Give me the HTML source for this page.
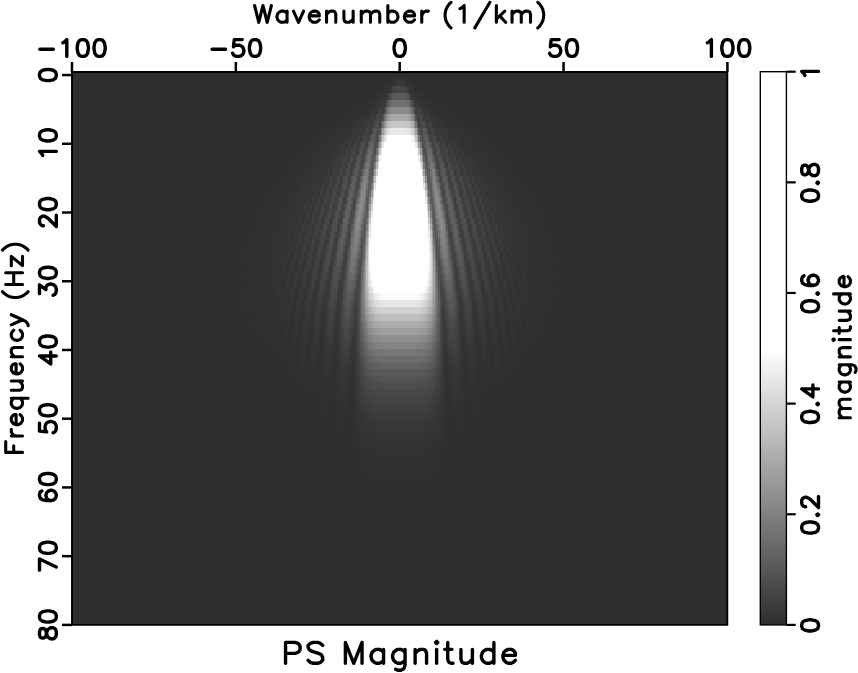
<!DOCTYPE html>
<html><head><meta charset="utf-8"><title>PS Magnitude</title>
<style>html,body{margin:0;padding:0;background:#fff;font-family:"Liberation Sans",sans-serif}svg{display:block}</style></head>
<body>
<svg width="858" height="673" viewBox="0 0 858 673">
<rect width="858" height="673" fill="#fff"/>
<g shape-rendering="crispEdges"><rect x="72.0" y="72.5" width="655.3" height="552.4" fill="rgb(45,45,45)"/>
<path fill="rgb(46,46,46)" d="M384 79h7v7h-7zM409 79h6v7h-6zM369 86h12v7h-12zM418 86h12v7h-12zM356 93h13v7h-13zM430 93h13v7h-13zM343 100h15v7h-15zM441 100h15v7h-15zM332 107h15v7h-15zM453 107h14v7h-14zM322 114h15v7h-15zM463 114h14v7h-14zM314 121h15v7h-15zM471 121h14v7h-14zM306 128h14v7h-14zM479 128h15v7h-15zM298 135h14v7h-14zM487 135h15v7h-15zM289 142h17v6h-17zM494 142h16v6h-16zM283 148h16v7h-16zM500 148h16v7h-16zM276 155h15v7h-15zM508 155h15v7h-15zM271 162h15v7h-15zM513 162h15v7h-15zM265 169h16v7h-16zM518 169h16v7h-16zM258 176h17v7h-17zM276 176h2v7h-2zM521 176h2v7h-2zM525 176h16v7h-16zM253 183h17v7h-17zM530 183h16v7h-16zM248 190h18v7h-18zM533 190h18v7h-18zM245 197h17v7h-17zM538 197h16v7h-16zM240 204h18v7h-18zM541 204h18v7h-18zM235 211h20v7h-20zM544 211h20v7h-20zM232 218h20v6h-20zM253 218h2v6h-2zM544 218h2v6h-2zM548 218h19v6h-19zM229 224h19v7h-19zM250 224h2v7h-2zM548 224h1v7h-1zM551 224h19v7h-19zM224 231h21v7h-21zM247 231h1v7h-1zM551 231h1v7h-1zM554 231h21v7h-21zM221 238h21v7h-21zM244 238h1v7h-1zM554 238h2v7h-2zM557 238h22v7h-22zM217 245h2v7h-2zM221 245h21v7h-21zM557 245h22v7h-22zM580 245h2v7h-2zM214 252h2v7h-2zM217 252h22v7h-22zM561 252h21v7h-21zM583 252h2v7h-2zM214 259h21v7h-21zM239 259h1v7h-1zM559 259h2v7h-2zM564 259h21v7h-21zM211 266h2v7h-2zM214 266h20v7h-20zM235 266h2v7h-2zM240 266h2v7h-2zM557 266h2v7h-2zM562 266h2v7h-2zM566 266h19v7h-19zM587 266h1v7h-1zM208 273h1v7h-1zM211 273h24v7h-24zM237 273h2v7h-2zM561 273h1v7h-1zM564 273h24v7h-24zM590 273h2v7h-2zM208 280h3v7h-3zM213 280h19v7h-19zM234 280h3v7h-3zM240 280h2v7h-2zM557 280h2v7h-2zM562 280h4v7h-4zM567 280h20v7h-20zM588 280h4v7h-4zM206 287h2v6h-2zM209 287h25v6h-25zM237 287h2v6h-2zM561 287h1v6h-1zM566 287h24v6h-24zM592 287h1v6h-1zM203 293h1v7h-1zM206 293h3v7h-3zM211 293h21v7h-21zM234 293h3v7h-3zM240 293h2v7h-2zM557 293h2v7h-2zM562 293h4v7h-4zM567 293h21v7h-21zM590 293h3v7h-3zM595 293h2v7h-2zM204 300h2v7h-2zM208 300h26v7h-26zM237 300h3v7h-3zM244 300h1v7h-1zM554 300h2v7h-2zM559 300h3v7h-3zM566 300h26v7h-26zM593 300h2v7h-2zM203 307h1v7h-1zM206 307h3v7h-3zM211 307h23v7h-23zM235 307h4v7h-4zM242 307h2v7h-2zM248 307h2v7h-2zM549 307h2v7h-2zM556 307h1v7h-1zM561 307h3v7h-3zM566 307h22v7h-22zM590 307h3v7h-3zM595 307h2v7h-2zM206 314h2v7h-2zM209 314h4v7h-4zM214 314h23v7h-23zM240 314h4v7h-4zM247 314h1v7h-1zM253 314h2v7h-2zM544 314h2v7h-2zM551 314h1v7h-1zM556 314h3v7h-3zM562 314h23v7h-23zM587 314h3v7h-3zM592 314h1v7h-1zM209 321h2v7h-2zM213 321h24v7h-24zM239 321h3v7h-3zM245 321h3v7h-3zM252 321h1v7h-1zM546 321h2v7h-2zM551 321h3v7h-3zM557 321h4v7h-4zM562 321h25v7h-25zM588 321h2v7h-2zM208 328h1v7h-1zM213 328h3v7h-3zM217 328h25v7h-25zM244 328h3v7h-3zM250 328h3v7h-3zM258 328h2v7h-2zM539 328h2v7h-2zM546 328h3v7h-3zM552 328h4v7h-4zM557 328h25v7h-25zM583 328h4v7h-4zM590 328h2v7h-2zM211 335h2v7h-2zM216 335h3v7h-3zM221 335h26v7h-26zM248 335h5v7h-5zM257 335h3v7h-3zM265 335h1v7h-1zM533 335h1v7h-1zM539 335h4v7h-4zM546 335h5v7h-5zM552 335h27v7h-27zM580 335h3v7h-3zM587 335h1v7h-1zM216 342h1v7h-1zM221 342h3v7h-3zM226 342h26v7h-26zM255 342h3v7h-3zM263 342h2v7h-2zM271 342h2v7h-2zM280 342h1v7h-1zM518 342h2v7h-2zM526 342h2v7h-2zM534 342h2v7h-2zM541 342h3v7h-3zM548 342h26v7h-26zM575 342h4v7h-4zM582 342h1v7h-1zM214 349h2v7h-2zM219 349h3v7h-3zM224 349h5v7h-5zM231 349h21v7h-21zM253 349h5v7h-5zM262 349h3v7h-3zM270 349h3v7h-3zM278 349h2v7h-2zM288 349h1v7h-1zM510 349h2v7h-2zM520 349h1v7h-1zM526 349h4v7h-4zM534 349h4v7h-4zM541 349h5v7h-5zM548 349h21v7h-21zM570 349h5v7h-5zM577 349h3v7h-3zM583 349h2v7h-2zM219 356h2v7h-2zM224 356h3v7h-3zM229 356h5v7h-5zM235 356h23v7h-23zM260 356h5v7h-5zM268 356h3v7h-3zM276 356h4v7h-4zM286 356h2v7h-2zM512 356h1v7h-1zM520 356h3v7h-3zM528 356h3v7h-3zM534 356h5v7h-5zM541 356h23v7h-23zM566 356h4v7h-4zM572 356h3v7h-3zM579 356h1v7h-1zM222 363h2v6h-2zM229 363h3v6h-3zM234 363h5v6h-5zM240 363h25v6h-25zM266 363h5v6h-5zM275 363h5v6h-5zM284 363h4v6h-4zM296 363h2v6h-2zM502 363h1v6h-1zM512 363h3v6h-3zM520 363h5v6h-5zM528 363h5v6h-5zM534 363h25v6h-25zM561 363h5v6h-5zM567 363h3v6h-3zM575 363h2v6h-2zM227 369h4v7h-4zM234 369h3v7h-3zM240 369h4v7h-4zM247 369h5v7h-5zM253 369h18v7h-18zM273 369h7v7h-7zM283 369h5v7h-5zM294 369h4v7h-4zM306 369h1v7h-1zM492 369h2v7h-2zM502 369h3v7h-3zM512 369h4v7h-4zM520 369h6v7h-6zM528 369h18v7h-18zM548 369h4v7h-4zM556 369h3v7h-3zM562 369h4v7h-4zM569 369h3v7h-3zM234 376h1v7h-1zM239 376h3v7h-3zM245 376h5v7h-5zM252 376h6v7h-6zM260 376h20v7h-20zM281 376h7v7h-7zM293 376h5v7h-5zM304 376h3v7h-3zM317 376h2v7h-2zM481 376h1v7h-1zM492 376h3v7h-3zM502 376h5v7h-5zM512 376h6v7h-6zM520 376h19v7h-19zM541 376h7v7h-7zM549 376h5v7h-5zM557 376h4v7h-4zM564 376h2v7h-2zM239 383h1v7h-1zM245 383h3v7h-3zM252 383h5v7h-5zM260 383h5v7h-5zM266 383h22v7h-22zM291 383h7v7h-7zM302 383h5v7h-5zM317 383h2v7h-2zM481 383h1v7h-1zM492 383h5v7h-5zM502 383h6v7h-6zM512 383h21v7h-21zM534 383h5v7h-5zM543 383h5v7h-5zM551 383h3v7h-3zM559 383h2v7h-2zM245 390h2v7h-2zM252 390h3v7h-3zM258 390h5v7h-5zM266 390h7v7h-7zM275 390h23v7h-23zM301 390h6v7h-6zM315 390h4v7h-4zM332 390h1v7h-1zM466 390h1v7h-1zM481 390h3v7h-3zM492 390h7v7h-7zM502 390h23v7h-23zM526 390h7v7h-7zM536 390h5v7h-5zM544 390h4v7h-4zM552 390h2v7h-2zM252 397h1v7h-1zM258 397h4v7h-4zM266 397h5v7h-5zM275 397h6v7h-6zM283 397h15v7h-15zM299 397h8v7h-8zM314 397h5v7h-5zM330 397h3v7h-3zM466 397h3v7h-3zM481 397h4v7h-4zM492 397h8v7h-8zM502 397h14v7h-14zM518 397h7v7h-7zM528 397h5v7h-5zM538 397h3v7h-3zM546 397h2v7h-2zM258 404h2v7h-2zM266 404h4v7h-4zM275 404h5v7h-5zM283 404h8v7h-8zM293 404h9v7h-9zM304 404h5v7h-5zM312 404h8v7h-8zM329 404h4v7h-4zM466 404h5v7h-5zM479 404h8v7h-8zM490 404h5v7h-5zM497 404h10v7h-10zM508 404h8v7h-8zM520 404h5v7h-5zM530 404h3v7h-3zM539 404h2v7h-2zM266 411h2v7h-2zM275 411h3v7h-3zM283 411h6v7h-6zM293 411h8v7h-8zM304 411h16v7h-16zM327 411h6v7h-6zM350 411h1v7h-1zM448 411h1v7h-1zM466 411h6v7h-6zM479 411h16v7h-16zM499 411h8v7h-8zM510 411h6v7h-6zM521 411h4v7h-4zM531 411h2v7h-2zM275 418h1v7h-1zM283 418h5v7h-5zM293 418h8v7h-8zM304 418h10v7h-10zM315 418h7v7h-7zM325 418h10v7h-10zM348 418h3v7h-3zM448 418h3v7h-3zM464 418h10v7h-10zM477 418h7v7h-7zM485 418h10v7h-10zM499 418h8v7h-8zM512 418h4v7h-4zM523 418h2v7h-2zM284 425h2v7h-2zM293 425h6v7h-6zM304 425h8v7h-8zM317 425h12v7h-12zM330 425h5v7h-5zM347 425h6v7h-6zM446 425h7v7h-7zM464 425h5v7h-5zM471 425h11v7h-11zM487 425h8v7h-8zM500 425h7v7h-7zM513 425h2v7h-2zM294 432h2v6h-2zM304 432h7v6h-7zM317 432h12v6h-12zM332 432h5v6h-5zM345 432h8v6h-8zM446 432h8v6h-8zM463 432h4v6h-4zM471 432h11v6h-11zM489 432h6v6h-6zM503 432h2v6h-2zM306 438h3v7h-3zM317 438h10v7h-10zM332 438h21v7h-21zM446 438h21v7h-21zM472 438h10v7h-10zM490 438h4v7h-4zM317 445h8v7h-8zM332 445h16v7h-16zM350 445h5v7h-5zM445 445h4v7h-4zM451 445h16v7h-16zM474 445h8v7h-8zM320 452h2v7h-2zM333 452h14v7h-14zM351 452h4v7h-4zM445 452h3v7h-3zM453 452h13v7h-13zM477 452h2v7h-2zM333 459h12v7h-12zM351 459h5v7h-5zM443 459h5v7h-5zM454 459h12v7h-12zM337 466h5v7h-5zM351 466h9v7h-9zM440 466h8v7h-8zM458 466h5v7h-5zM353 473h12v7h-12zM435 473h11v7h-11zM353 480h93v7h-93zM355 487h90v7h-90zM358 494h83v7h-83zM363 501h73v7h-73z"/>
<path fill="rgb(47,47,47)" d="M391 79h1v7h-1zM407 79h2v7h-2zM381 86h3v7h-3zM415 86h3v7h-3zM369 93h5v7h-5zM425 93h5v7h-5zM358 100h7v7h-7zM435 100h6v7h-6zM347 107h8v7h-8zM445 107h8v7h-8zM337 114h10v7h-10zM453 114h10v7h-10zM329 121h9v7h-9zM461 121h10v7h-10zM320 128h9v7h-9zM471 128h8v7h-8zM312 135h8v7h-8zM479 135h8v7h-8zM306 142h9v6h-9zM484 142h10v6h-10zM299 148h8v7h-8zM492 148h8v7h-8zM291 155h10v7h-10zM499 155h9v7h-9zM286 162h10v7h-10zM503 162h10v7h-10zM281 169h8v7h-8zM291 169h2v7h-2zM507 169h1v7h-1zM510 169h8v7h-8zM275 176h1v7h-1zM278 176h6v7h-6zM515 176h6v7h-6zM523 176h2v7h-2zM270 183h11v7h-11zM518 183h12v7h-12zM266 190h12v7h-12zM521 190h12v7h-12zM262 197h8v7h-8zM271 197h2v7h-2zM526 197h2v7h-2zM530 197h8v7h-8zM258 204h8v7h-8zM268 204h2v7h-2zM530 204h1v7h-1zM533 204h8v7h-8zM255 211h8v7h-8zM265 211h1v7h-1zM533 211h1v7h-1zM536 211h8v7h-8zM252 218h1v6h-1zM255 218h5v6h-5zM262 218h1v6h-1zM536 218h2v6h-2zM539 218h5v6h-5zM546 218h2v6h-2zM248 224h2v7h-2zM252 224h5v7h-5zM258 224h2v7h-2zM263 224h2v7h-2zM534 224h2v7h-2zM539 224h2v7h-2zM543 224h5v7h-5zM549 224h2v7h-2zM245 231h2v7h-2zM248 231h5v7h-5zM255 231h2v7h-2zM260 231h2v7h-2zM538 231h1v7h-1zM543 231h1v7h-1zM546 231h5v7h-5zM552 231h2v7h-2zM242 238h2v7h-2zM245 238h10v7h-10zM257 238h1v7h-1zM541 238h2v7h-2zM544 238h10v7h-10zM556 238h1v7h-1zM242 245h10v7h-10zM253 245h2v7h-2zM258 245h2v7h-2zM539 245h2v7h-2zM544 245h2v7h-2zM548 245h9v7h-9zM239 252h9v7h-9zM250 252h3v7h-3zM546 252h3v7h-3zM551 252h10v7h-10zM235 259h4v7h-4zM240 259h10v7h-10zM253 259h2v7h-2zM258 259h2v7h-2zM539 259h2v7h-2zM544 259h2v7h-2zM549 259h10v7h-10zM561 259h3v7h-3zM234 266h1v7h-1zM237 266h3v7h-3zM242 266h6v7h-6zM250 266h2v7h-2zM548 266h1v7h-1zM551 266h6v7h-6zM559 266h3v7h-3zM564 266h2v7h-2zM235 273h2v7h-2zM239 273h6v7h-6zM247 273h3v7h-3zM253 273h2v7h-2zM544 273h2v7h-2zM549 273h3v7h-3zM554 273h7v7h-7zM562 273h2v7h-2zM232 280h2v7h-2zM237 280h3v7h-3zM242 280h6v7h-6zM250 280h3v7h-3zM257 280h1v7h-1zM541 280h2v7h-2zM546 280h3v7h-3zM551 280h6v7h-6zM559 280h3v7h-3zM566 280h1v7h-1zM234 287h3v6h-3zM239 287h6v6h-6zM247 287h3v6h-3zM253 287h4v6h-4zM260 287h2v6h-2zM538 287h1v6h-1zM543 287h3v6h-3zM549 287h3v6h-3zM554 287h7v6h-7zM562 287h4v6h-4zM232 293h2v7h-2zM237 293h3v7h-3zM242 293h6v7h-6zM252 293h1v7h-1zM258 293h2v7h-2zM265 293h1v7h-1zM533 293h1v7h-1zM539 293h2v7h-2zM546 293h2v7h-2zM551 293h6v7h-6zM559 293h3v7h-3zM566 293h1v7h-1zM234 300h3v7h-3zM240 300h4v7h-4zM245 300h2v7h-2zM248 300h4v7h-4zM255 300h3v7h-3zM263 300h2v7h-2zM270 300h1v7h-1zM528 300h2v7h-2zM534 300h2v7h-2zM541 300h3v7h-3zM548 300h3v7h-3zM552 300h2v7h-2zM556 300h3v7h-3zM562 300h4v7h-4zM234 307h1v7h-1zM239 307h3v7h-3zM244 307h4v7h-4zM250 307h2v7h-2zM253 307h4v7h-4zM262 307h1v7h-1zM268 307h2v7h-2zM530 307h1v7h-1zM536 307h2v7h-2zM543 307h3v7h-3zM548 307h1v7h-1zM551 307h5v7h-5zM557 307h4v7h-4zM564 307h2v7h-2zM237 314h3v7h-3zM244 314h3v7h-3zM248 314h5v7h-5zM255 314h2v7h-2zM260 314h3v7h-3zM266 314h4v7h-4zM275 314h1v7h-1zM523 314h2v7h-2zM530 314h3v7h-3zM536 314h3v7h-3zM543 314h1v7h-1zM546 314h5v7h-5zM552 314h4v7h-4zM559 314h3v7h-3zM237 321h2v7h-2zM242 321h3v7h-3zM248 321h4v7h-4zM253 321h4v7h-4zM258 321h4v7h-4zM265 321h3v7h-3zM273 321h3v7h-3zM523 321h3v7h-3zM531 321h3v7h-3zM538 321h3v7h-3zM543 321h3v7h-3zM548 321h3v7h-3zM554 321h3v7h-3zM561 321h1v7h-1zM242 328h2v7h-2zM247 328h3v7h-3zM253 328h5v7h-5zM260 328h2v7h-2zM263 328h5v7h-5zM271 328h4v7h-4zM281 328h2v7h-2zM289 328h2v7h-2zM508 328h2v7h-2zM516 328h2v7h-2zM525 328h3v7h-3zM531 328h5v7h-5zM538 328h1v7h-1zM541 328h5v7h-5zM549 328h3v7h-3zM556 328h1v7h-1zM247 335h1v7h-1zM253 335h4v7h-4zM260 335h5v7h-5zM266 335h2v7h-2zM271 335h4v7h-4zM280 335h3v7h-3zM289 335h2v7h-2zM508 335h2v7h-2zM516 335h4v7h-4zM525 335h3v7h-3zM531 335h2v7h-2zM534 335h5v7h-5zM543 335h3v7h-3zM551 335h1v7h-1zM252 342h3v7h-3zM258 342h5v7h-5zM265 342h6v7h-6zM273 342h2v7h-2zM278 342h2v7h-2zM281 342h2v7h-2zM288 342h3v7h-3zM298 342h1v7h-1zM500 342h2v7h-2zM508 342h4v7h-4zM516 342h2v7h-2zM520 342h1v7h-1zM525 342h1v7h-1zM528 342h6v7h-6zM536 342h5v7h-5zM544 342h4v7h-4zM252 349h1v7h-1zM258 349h4v7h-4zM265 349h5v7h-5zM273 349h2v7h-2zM276 349h2v7h-2zM280 349h1v7h-1zM286 349h2v7h-2zM296 349h3v7h-3zM307 349h2v7h-2zM490 349h2v7h-2zM500 349h3v7h-3zM512 349h1v7h-1zM518 349h2v7h-2zM521 349h2v7h-2zM525 349h1v7h-1zM530 349h4v7h-4zM538 349h3v7h-3zM546 349h2v7h-2zM258 356h2v7h-2zM265 356h3v7h-3zM271 356h5v7h-5zM280 356h1v7h-1zM284 356h2v7h-2zM288 356h1v7h-1zM294 356h5v7h-5zM306 356h3v7h-3zM319 356h1v7h-1zM479 356h2v7h-2zM490 356h4v7h-4zM500 356h5v7h-5zM510 356h2v7h-2zM513 356h2v7h-2zM518 356h2v7h-2zM523 356h5v7h-5zM531 356h3v7h-3zM539 356h2v7h-2zM265 363h1v6h-1zM271 363h4v6h-4zM280 363h4v6h-4zM288 363h1v6h-1zM293 363h3v6h-3zM298 363h1v6h-1zM306 363h3v6h-3zM319 363h1v6h-1zM479 363h2v6h-2zM490 363h4v6h-4zM500 363h2v6h-2zM503 363h4v6h-4zM510 363h2v6h-2zM515 363h5v6h-5zM525 363h3v6h-3zM533 363h1v6h-1zM271 369h2v7h-2zM280 369h3v7h-3zM288 369h6v7h-6zM298 369h1v7h-1zM304 369h2v7h-2zM307 369h2v7h-2zM317 369h3v7h-3zM333 369h2v7h-2zM464 369h2v7h-2zM479 369h3v7h-3zM490 369h2v7h-2zM494 369h1v7h-1zM500 369h2v7h-2zM505 369h7v7h-7zM516 369h4v7h-4zM526 369h2v7h-2zM280 376h1v7h-1zM288 376h5v7h-5zM298 376h1v7h-1zM302 376h2v7h-2zM307 376h2v7h-2zM315 376h2v7h-2zM319 376h1v7h-1zM332 376h3v7h-3zM464 376h3v7h-3zM479 376h2v7h-2zM482 376h2v7h-2zM490 376h2v7h-2zM495 376h2v7h-2zM500 376h2v7h-2zM507 376h5v7h-5zM518 376h2v7h-2zM288 383h3v7h-3zM298 383h4v7h-4zM307 383h2v7h-2zM314 383h3v7h-3zM319 383h1v7h-1zM330 383h5v7h-5zM464 383h5v7h-5zM479 383h2v7h-2zM482 383h3v7h-3zM490 383h2v7h-2zM497 383h5v7h-5zM508 383h4v7h-4zM298 390h3v7h-3zM307 390h8v7h-8zM319 390h3v7h-3zM329 390h3v7h-3zM333 390h2v7h-2zM464 390h2v7h-2zM467 390h4v7h-4zM477 390h4v7h-4zM484 390h8v7h-8zM499 390h3v7h-3zM298 397h1v7h-1zM307 397h7v7h-7zM319 397h3v7h-3zM327 397h3v7h-3zM333 397h2v7h-2zM350 397h3v7h-3zM446 397h3v7h-3zM464 397h2v7h-2zM469 397h3v7h-3zM477 397h4v7h-4zM485 397h7v7h-7zM500 397h2v7h-2zM309 404h3v7h-3zM320 404h9v7h-9zM333 404h4v7h-4zM348 404h5v7h-5zM446 404h5v7h-5zM463 404h3v7h-3zM471 404h8v7h-8zM487 404h3v7h-3zM320 411h7v7h-7zM333 411h4v7h-4zM347 411h3v7h-3zM351 411h2v7h-2zM446 411h2v7h-2zM449 411h4v7h-4zM463 411h3v7h-3zM472 411h7v7h-7zM322 418h3v7h-3zM335 418h3v7h-3zM343 418h5v7h-5zM351 418h2v7h-2zM446 418h2v7h-2zM451 418h5v7h-5zM461 418h3v7h-3zM474 418h3v7h-3zM335 425h12v7h-12zM353 425h2v7h-2zM445 425h1v7h-1zM453 425h11v7h-11zM337 432h8v6h-8zM353 432h2v6h-2zM445 432h1v6h-1zM454 432h9v6h-9zM353 438h3v7h-3zM443 438h3v7h-3zM355 445h3v7h-3zM441 445h4v7h-4zM355 452h5v7h-5zM440 452h5v7h-5zM356 459h9v7h-9zM435 459h8v7h-8zM360 466h80v7h-80zM365 473h70v7h-70z"/>
<path fill="rgb(48,48,48)" d="M392 79h2v7h-2zM405 79h2v7h-2zM384 86h2v7h-2zM414 86h1v7h-1zM374 93h5v7h-5zM420 93h5v7h-5zM365 100h3v7h-3zM369 100h2v7h-2zM428 100h2v7h-2zM432 100h3v7h-3zM355 107h5v7h-5zM440 107h5v7h-5zM347 114h6v7h-6zM446 114h7v7h-7zM338 121h4v7h-4zM343 121h2v7h-2zM454 121h2v7h-2zM458 121h3v7h-3zM329 128h6v7h-6zM464 128h7v7h-7zM320 135h7v7h-7zM329 135h1v7h-1zM469 135h2v7h-2zM472 135h7v7h-7zM315 142h7v6h-7zM477 142h7v6h-7zM307 148h8v7h-8zM484 148h8v7h-8zM301 155h6v7h-6zM309 155h2v7h-2zM489 155h1v7h-1zM492 155h7v7h-7zM296 162h8v7h-8zM495 162h8v7h-8zM289 169h2v7h-2zM293 169h3v7h-3zM298 169h1v7h-1zM500 169h2v7h-2zM503 169h4v7h-4zM508 169h2v7h-2zM284 176h9v7h-9zM294 176h2v7h-2zM503 176h2v7h-2zM507 176h8v7h-8zM281 183h8v7h-8zM291 183h2v7h-2zM507 183h1v7h-1zM510 183h8v7h-8zM278 190h3v7h-3zM283 190h1v7h-1zM515 190h1v7h-1zM518 190h3v7h-3zM270 197h1v7h-1zM273 197h5v7h-5zM280 197h1v7h-1zM518 197h2v7h-2zM521 197h5v7h-5zM528 197h2v7h-2zM266 204h2v7h-2zM270 204h5v7h-5zM276 204h2v7h-2zM521 204h2v7h-2zM525 204h5v7h-5zM531 204h2v7h-2zM263 211h2v7h-2zM266 211h5v7h-5zM273 211h2v7h-2zM525 211h1v7h-1zM528 211h5v7h-5zM534 211h2v7h-2zM260 218h2v6h-2zM263 218h5v6h-5zM270 218h3v6h-3zM526 218h4v6h-4zM531 218h5v6h-5zM538 218h1v6h-1zM257 224h1v7h-1zM260 224h3v7h-3zM266 224h4v7h-4zM530 224h3v7h-3zM536 224h3v7h-3zM541 224h2v7h-2zM253 231h2v7h-2zM257 231h3v7h-3zM262 231h4v7h-4zM270 231h1v7h-1zM528 231h2v7h-2zM533 231h5v7h-5zM539 231h4v7h-4zM544 231h2v7h-2zM255 238h2v7h-2zM258 238h5v7h-5zM266 238h2v7h-2zM531 238h2v7h-2zM536 238h5v7h-5zM543 238h1v7h-1zM252 245h1v7h-1zM255 245h3v7h-3zM260 245h2v7h-2zM263 245h3v7h-3zM533 245h3v7h-3zM538 245h1v7h-1zM541 245h3v7h-3zM546 245h2v7h-2zM248 252h2v7h-2zM253 252h5v7h-5zM260 252h3v7h-3zM266 252h2v7h-2zM531 252h2v7h-2zM536 252h3v7h-3zM541 252h5v7h-5zM549 252h2v7h-2zM250 259h3v7h-3zM255 259h3v7h-3zM260 259h2v7h-2zM263 259h3v7h-3zM270 259h1v7h-1zM528 259h2v7h-2zM533 259h3v7h-3zM538 259h1v7h-1zM541 259h3v7h-3zM546 259h3v7h-3zM248 266h2v7h-2zM252 266h6v7h-6zM262 266h1v7h-1zM266 266h4v7h-4zM530 266h3v7h-3zM536 266h2v7h-2zM541 266h7v7h-7zM549 266h2v7h-2zM245 273h2v7h-2zM250 273h3v7h-3zM255 273h2v7h-2zM258 273h4v7h-4zM265 273h1v7h-1zM271 273h2v7h-2zM526 273h2v7h-2zM533 273h1v7h-1zM538 273h3v7h-3zM543 273h1v7h-1zM546 273h3v7h-3zM552 273h2v7h-2zM248 280h2v7h-2zM253 280h4v7h-4zM258 280h2v7h-2zM262 280h3v7h-3zM268 280h3v7h-3zM528 280h3v7h-3zM534 280h4v7h-4zM539 280h2v7h-2zM543 280h3v7h-3zM549 280h2v7h-2zM245 287h2v6h-2zM250 287h3v6h-3zM262 287h1v6h-1zM266 287h2v6h-2zM273 287h2v6h-2zM525 287h1v6h-1zM531 287h2v6h-2zM536 287h2v6h-2zM546 287h3v6h-3zM552 287h2v6h-2zM248 293h4v7h-4zM253 293h2v7h-2zM257 293h1v7h-1zM260 293h2v7h-2zM263 293h2v7h-2zM271 293h2v7h-2zM280 293h1v7h-1zM518 293h2v7h-2zM526 293h2v7h-2zM534 293h2v7h-2zM538 293h1v7h-1zM541 293h2v7h-2zM544 293h2v7h-2zM548 293h3v7h-3zM247 300h1v7h-1zM252 300h3v7h-3zM258 300h2v7h-2zM262 300h1v7h-1zM268 300h2v7h-2zM276 300h4v7h-4zM284 300h2v7h-2zM513 300h2v7h-2zM520 300h3v7h-3zM530 300h1v7h-1zM536 300h2v7h-2zM539 300h2v7h-2zM544 300h4v7h-4zM551 300h1v7h-1zM252 307h1v7h-1zM257 307h5v7h-5zM263 307h2v7h-2zM270 307h1v7h-1zM275 307h3v7h-3zM284 307h2v7h-2zM293 307h1v7h-1zM505 307h2v7h-2zM513 307h2v7h-2zM521 307h4v7h-4zM528 307h2v7h-2zM534 307h2v7h-2zM538 307h5v7h-5zM546 307h2v7h-2zM257 314h3v7h-3zM263 314h3v7h-3zM276 314h2v7h-2zM283 314h1v7h-1zM291 314h2v7h-2zM507 314h1v7h-1zM515 314h1v7h-1zM521 314h2v7h-2zM533 314h3v7h-3zM539 314h4v7h-4zM257 321h1v7h-1zM262 321h3v7h-3zM268 321h2v7h-2zM281 321h3v7h-3zM289 321h4v7h-4zM301 321h1v7h-1zM497 321h2v7h-2zM507 321h3v7h-3zM515 321h3v7h-3zM530 321h1v7h-1zM534 321h4v7h-4zM541 321h2v7h-2zM262 328h1v7h-1zM268 328h3v7h-3zM275 328h1v7h-1zM280 328h1v7h-1zM283 328h1v7h-1zM291 328h2v7h-2zM299 328h2v7h-2zM499 328h1v7h-1zM507 328h1v7h-1zM515 328h1v7h-1zM518 328h2v7h-2zM523 328h2v7h-2zM528 328h3v7h-3zM536 328h2v7h-2zM268 335h3v7h-3zM275 335h1v7h-1zM278 335h2v7h-2zM283 335h1v7h-1zM288 335h1v7h-1zM291 335h2v7h-2zM298 335h3v7h-3zM309 335h2v7h-2zM489 335h1v7h-1zM499 335h3v7h-3zM507 335h1v7h-1zM510 335h2v7h-2zM515 335h1v7h-1zM520 335h1v7h-1zM523 335h2v7h-2zM528 335h3v7h-3zM275 342h3v7h-3zM286 342h2v7h-2zM296 342h2v7h-2zM299 342h2v7h-2zM307 342h4v7h-4zM320 342h2v7h-2zM477 342h2v7h-2zM489 342h3v7h-3zM499 342h1v7h-1zM502 342h1v7h-1zM512 342h1v7h-1zM521 342h4v7h-4zM275 349h1v7h-1zM281 349h5v7h-5zM289 349h2v7h-2zM294 349h2v7h-2zM299 349h2v7h-2zM306 349h1v7h-1zM309 349h2v7h-2zM319 349h3v7h-3zM477 349h4v7h-4zM489 349h1v7h-1zM492 349h2v7h-2zM499 349h1v7h-1zM503 349h2v7h-2zM508 349h2v7h-2zM513 349h5v7h-5zM523 349h2v7h-2zM281 356h3v7h-3zM289 356h5v7h-5zM299 356h2v7h-2zM309 356h2v7h-2zM320 356h2v7h-2zM333 356h2v7h-2zM464 356h2v7h-2zM477 356h2v7h-2zM489 356h1v7h-1zM499 356h1v7h-1zM505 356h5v7h-5zM515 356h3v7h-3zM289 363h4v6h-4zM299 363h2v6h-2zM304 363h2v6h-2zM309 363h2v6h-2zM317 363h2v6h-2zM320 363h2v6h-2zM333 363h2v6h-2zM464 363h2v6h-2zM477 363h2v6h-2zM481 363h1v6h-1zM489 363h1v6h-1zM494 363h1v6h-1zM499 363h1v6h-1zM507 363h3v6h-3zM299 369h5v7h-5zM309 369h2v7h-2zM315 369h2v7h-2zM320 369h2v7h-2zM332 369h1v7h-1zM466 369h1v7h-1zM477 369h2v7h-2zM482 369h2v7h-2zM489 369h1v7h-1zM495 369h5v7h-5zM299 376h3v7h-3zM309 376h6v7h-6zM320 376h2v7h-2zM330 376h2v7h-2zM467 376h2v7h-2zM477 376h2v7h-2zM484 376h6v7h-6zM497 376h3v7h-3zM309 383h5v7h-5zM320 383h2v7h-2zM329 383h1v7h-1zM335 383h2v7h-2zM350 383h3v7h-3zM446 383h3v7h-3zM463 383h1v7h-1zM469 383h2v7h-2zM477 383h2v7h-2zM485 383h5v7h-5zM322 390h7v7h-7zM335 390h2v7h-2zM350 390h3v7h-3zM446 390h3v7h-3zM463 390h1v7h-1zM471 390h6v7h-6zM322 397h5v7h-5zM335 397h2v7h-2zM348 397h2v7h-2zM449 397h2v7h-2zM463 397h1v7h-1zM472 397h5v7h-5zM337 404h1v7h-1zM347 404h1v7h-1zM353 404h2v7h-2zM445 404h1v7h-1zM451 404h2v7h-2zM461 404h2v7h-2zM337 411h10v7h-10zM353 411h2v7h-2zM445 411h1v7h-1zM453 411h10v7h-10zM338 418h5v7h-5zM353 418h2v7h-2zM445 418h1v7h-1zM456 418h5v7h-5zM355 425h1v7h-1zM443 425h2v7h-2zM355 432h3v6h-3zM441 432h4v6h-4zM356 438h4v7h-4zM440 438h3v7h-3zM358 445h3v7h-3zM438 445h3v7h-3zM360 452h9v7h-9zM430 452h10v7h-10zM365 459h70v7h-70z"/>
<path fill="rgb(49,49,49)" d="M386 86h1v7h-1zM412 86h2v7h-2zM381 93h1v7h-1zM417 93h1v7h-1zM368 100h1v7h-1zM430 100h2v7h-2zM360 107h5v7h-5zM435 107h5v7h-5zM353 114h3v7h-3zM443 114h3v7h-3zM342 121h1v7h-1zM345 121h3v7h-3zM451 121h3v7h-3zM456 121h2v7h-2zM335 128h7v7h-7zM458 128h6v7h-6zM327 135h2v7h-2zM330 135h3v7h-3zM466 135h3v7h-3zM471 135h1v7h-1zM322 142h5v6h-5zM472 142h5v6h-5zM315 148h4v7h-4zM320 148h2v7h-2zM477 148h2v7h-2zM481 148h3v7h-3zM307 155h2v7h-2zM311 155h4v7h-4zM484 155h5v7h-5zM490 155h2v7h-2zM304 162h3v7h-3zM309 162h2v7h-2zM489 162h1v7h-1zM492 162h3v7h-3zM296 169h2v7h-2zM299 169h5v7h-5zM495 169h5v7h-5zM502 169h1v7h-1zM293 176h1v7h-1zM296 176h2v7h-2zM299 176h2v7h-2zM499 176h1v7h-1zM502 176h1v7h-1zM505 176h2v7h-2zM289 183h2v7h-2zM296 183h2v7h-2zM502 183h1v7h-1zM508 183h2v7h-2zM281 190h2v7h-2zM284 190h5v7h-5zM293 190h1v7h-1zM505 190h2v7h-2zM510 190h5v7h-5zM516 190h2v7h-2zM278 197h2v7h-2zM281 197h5v7h-5zM289 197h2v7h-2zM508 197h2v7h-2zM513 197h5v7h-5zM520 197h1v7h-1zM275 204h1v7h-1zM278 204h2v7h-2zM281 204h2v7h-2zM286 204h2v7h-2zM512 204h1v7h-1zM516 204h2v7h-2zM520 204h1v7h-1zM523 204h2v7h-2zM271 211h2v7h-2zM275 211h1v7h-1zM278 211h2v7h-2zM283 211h1v7h-1zM515 211h1v7h-1zM520 211h1v7h-1zM523 211h2v7h-2zM526 211h2v7h-2zM268 218h2v6h-2zM275 218h3v6h-3zM280 218h1v6h-1zM518 218h2v6h-2zM521 218h4v6h-4zM530 218h1v6h-1zM265 224h1v7h-1zM270 224h5v7h-5zM276 224h4v7h-4zM520 224h3v7h-3zM525 224h5v7h-5zM533 224h1v7h-1zM266 231h4v7h-4zM275 231h1v7h-1zM280 231h1v7h-1zM518 231h2v7h-2zM523 231h2v7h-2zM530 231h3v7h-3zM263 238h3v7h-3zM268 238h2v7h-2zM271 238h2v7h-2zM526 238h2v7h-2zM530 238h1v7h-1zM533 238h3v7h-3zM262 245h1v7h-1zM268 245h3v7h-3zM275 245h1v7h-1zM523 245h2v7h-2zM528 245h3v7h-3zM536 245h2v7h-2zM258 252h2v7h-2zM263 252h3v7h-3zM271 252h4v7h-4zM278 252h2v7h-2zM520 252h1v7h-1zM525 252h3v7h-3zM533 252h3v7h-3zM539 252h2v7h-2zM262 259h1v7h-1zM276 259h2v7h-2zM521 259h2v7h-2zM536 259h2v7h-2zM258 266h4v7h-4zM263 266h2v7h-2zM273 266h2v7h-2zM280 266h1v7h-1zM518 266h2v7h-2zM525 266h1v7h-1zM534 266h2v7h-2zM538 266h3v7h-3zM257 273h1v7h-1zM262 273h3v7h-3zM266 273h2v7h-2zM270 273h1v7h-1zM278 273h2v7h-2zM284 273h2v7h-2zM513 273h2v7h-2zM520 273h1v7h-1zM528 273h2v7h-2zM531 273h2v7h-2zM534 273h4v7h-4zM541 273h2v7h-2zM260 280h2v7h-2zM265 280h1v7h-1zM275 280h3v7h-3zM283 280h1v7h-1zM515 280h1v7h-1zM521 280h4v7h-4zM533 280h1v7h-1zM538 280h1v7h-1zM257 287h3v6h-3zM265 287h1v6h-1zM268 287h2v6h-2zM275 287h1v6h-1zM280 287h3v6h-3zM288 287h1v6h-1zM510 287h2v6h-2zM516 287h4v6h-4zM523 287h2v6h-2zM530 287h1v6h-1zM533 287h1v6h-1zM539 287h4v6h-4zM255 293h2v7h-2zM262 293h1v7h-1zM266 293h2v7h-2zM270 293h1v7h-1zM273 293h2v7h-2zM278 293h2v7h-2zM286 293h2v7h-2zM512 293h1v7h-1zM520 293h1v7h-1zM525 293h1v7h-1zM528 293h2v7h-2zM531 293h2v7h-2zM536 293h2v7h-2zM543 293h1v7h-1zM260 300h2v7h-2zM265 300h1v7h-1zM271 300h2v7h-2zM286 300h2v7h-2zM293 300h1v7h-1zM302 300h2v7h-2zM495 300h2v7h-2zM505 300h2v7h-2zM512 300h1v7h-1zM526 300h2v7h-2zM533 300h1v7h-1zM538 300h1v7h-1zM265 307h3v7h-3zM278 307h2v7h-2zM283 307h1v7h-1zM302 307h2v7h-2zM495 307h2v7h-2zM515 307h1v7h-1zM520 307h1v7h-1zM531 307h3v7h-3zM270 314h5v7h-5zM281 314h2v7h-2zM284 314h2v7h-2zM293 314h1v7h-1zM301 314h1v7h-1zM497 314h2v7h-2zM505 314h2v7h-2zM513 314h2v7h-2zM516 314h2v7h-2zM525 314h5v7h-5zM270 321h3v7h-3zM276 321h2v7h-2zM280 321h1v7h-1zM284 321h2v7h-2zM293 321h1v7h-1zM299 321h2v7h-2zM311 321h1v7h-1zM487 321h2v7h-2zM499 321h1v7h-1zM505 321h2v7h-2zM513 321h2v7h-2zM518 321h2v7h-2zM521 321h2v7h-2zM526 321h4v7h-4zM276 328h4v7h-4zM288 328h1v7h-1zM298 328h1v7h-1zM301 328h1v7h-1zM309 328h3v7h-3zM322 328h2v7h-2zM476 328h1v7h-1zM487 328h3v7h-3zM497 328h2v7h-2zM500 328h2v7h-2zM510 328h2v7h-2zM520 328h3v7h-3zM276 335h2v7h-2zM284 335h4v7h-4zM296 335h2v7h-2zM301 335h1v7h-1zM307 335h2v7h-2zM311 335h1v7h-1zM320 335h4v7h-4zM476 335h3v7h-3zM487 335h2v7h-2zM490 335h2v7h-2zM497 335h2v7h-2zM502 335h1v7h-1zM512 335h3v7h-3zM521 335h2v7h-2zM283 342h3v7h-3zM291 342h2v7h-2zM294 342h2v7h-2zM311 342h1v7h-1zM322 342h2v7h-2zM335 342h2v7h-2zM463 342h1v7h-1zM476 342h1v7h-1zM487 342h2v7h-2zM503 342h2v7h-2zM507 342h1v7h-1zM513 342h3v7h-3zM291 349h3v7h-3zM301 349h1v7h-1zM322 349h2v7h-2zM333 349h4v7h-4zM463 349h3v7h-3zM476 349h1v7h-1zM497 349h2v7h-2zM505 349h3v7h-3zM301 356h5v7h-5zM311 356h1v7h-1zM317 356h2v7h-2zM335 356h2v7h-2zM463 356h1v7h-1zM481 356h1v7h-1zM487 356h2v7h-2zM494 356h5v7h-5zM301 363h3v6h-3zM311 363h1v6h-1zM315 363h2v6h-2zM322 363h2v6h-2zM332 363h1v6h-1zM335 363h2v6h-2zM463 363h1v6h-1zM466 363h1v6h-1zM476 363h1v6h-1zM482 363h2v6h-2zM487 363h2v6h-2zM495 363h4v6h-4zM311 369h4v7h-4zM322 369h2v7h-2zM330 369h2v7h-2zM335 369h2v7h-2zM351 369h2v7h-2zM446 369h2v7h-2zM463 369h1v7h-1zM467 369h2v7h-2zM476 369h1v7h-1zM484 369h5v7h-5zM322 376h2v7h-2zM329 376h1v7h-1zM335 376h2v7h-2zM350 376h3v7h-3zM446 376h3v7h-3zM463 376h1v7h-1zM469 376h2v7h-2zM476 376h1v7h-1zM322 383h7v7h-7zM353 383h2v7h-2zM445 383h1v7h-1zM471 383h6v7h-6zM337 390h1v7h-1zM348 390h2v7h-2zM353 390h2v7h-2zM445 390h1v7h-1zM449 390h2v7h-2zM461 390h2v7h-2zM337 397h3v7h-3zM345 397h3v7h-3zM353 397h2v7h-2zM445 397h1v7h-1zM451 397h3v7h-3zM459 397h4v7h-4zM338 404h9v7h-9zM453 404h8v7h-8zM355 411h1v7h-1zM443 411h2v7h-2zM355 418h1v7h-1zM443 418h2v7h-2zM356 425h2v7h-2zM441 425h2v7h-2zM358 432h2v6h-2zM440 432h1v6h-1zM360 438h3v7h-3zM436 438h4v7h-4zM361 445h10v7h-10zM428 445h10v7h-10zM369 452h61v7h-61z"/>
<path fill="rgb(50,50,50)" d="M387 86h2v7h-2zM410 86h2v7h-2zM379 93h2v7h-2zM418 93h2v7h-2zM371 100h5v7h-5zM423 100h5v7h-5zM365 107h3v7h-3zM432 107h3v7h-3zM356 114h4v7h-4zM440 114h3v7h-3zM348 121h5v7h-5zM446 121h5v7h-5zM343 128h2v7h-2zM454 128h2v7h-2zM333 135h5v7h-5zM340 135h2v7h-2zM458 135h1v7h-1zM461 135h5v7h-5zM327 142h3v6h-3zM332 142h1v6h-1zM466 142h1v6h-1zM469 142h3v6h-3zM319 148h1v7h-1zM322 148h2v7h-2zM325 148h2v7h-2zM472 148h2v7h-2zM476 148h1v7h-1zM479 148h2v7h-2zM317 155h2v7h-2zM481 155h1v7h-1zM307 162h2v7h-2zM311 162h1v7h-1zM314 162h1v7h-1zM484 162h1v7h-1zM487 162h2v7h-2zM490 162h2v7h-2zM304 169h5v7h-5zM311 169h1v7h-1zM487 169h2v7h-2zM490 169h5v7h-5zM298 176h1v7h-1zM302 176h2v7h-2zM307 176h2v7h-2zM490 176h2v7h-2zM495 176h2v7h-2zM500 176h2v7h-2zM293 183h3v7h-3zM299 183h2v7h-2zM499 183h1v7h-1zM503 183h4v7h-4zM289 190h4v7h-4zM296 190h2v7h-2zM502 190h1v7h-1zM507 190h3v7h-3zM286 197h3v7h-3zM294 197h2v7h-2zM503 197h2v7h-2zM510 197h3v7h-3zM280 204h1v7h-1zM283 204h3v7h-3zM291 204h2v7h-2zM507 204h1v7h-1zM513 204h3v7h-3zM518 204h2v7h-2zM276 211h2v7h-2zM280 211h3v7h-3zM288 211h1v7h-1zM510 211h2v7h-2zM516 211h4v7h-4zM521 211h2v7h-2zM273 218h2v6h-2zM278 218h2v6h-2zM281 218h2v6h-2zM284 218h2v6h-2zM513 218h2v6h-2zM516 218h2v6h-2zM520 218h1v6h-1zM525 218h1v6h-1zM275 224h1v7h-1zM281 224h3v7h-3zM288 224h1v7h-1zM510 224h2v7h-2zM515 224h3v7h-3zM523 224h2v7h-2zM271 231h4v7h-4zM525 231h3v7h-3zM270 238h1v7h-1zM273 238h2v7h-2zM276 238h4v7h-4zM283 238h1v7h-1zM515 238h1v7h-1zM520 238h3v7h-3zM525 238h1v7h-1zM528 238h2v7h-2zM266 245h2v7h-2zM273 245h2v7h-2zM280 245h3v7h-3zM286 245h2v7h-2zM512 245h1v7h-1zM516 245h4v7h-4zM525 245h1v7h-1zM531 245h2v7h-2zM268 252h2v7h-2zM284 252h2v7h-2zM291 252h2v7h-2zM507 252h1v7h-1zM513 252h2v7h-2zM530 252h1v7h-1zM266 259h4v7h-4zM271 259h2v7h-2zM275 259h1v7h-1zM281 259h3v7h-3zM515 259h3v7h-3zM523 259h2v7h-2zM526 259h2v7h-2zM530 259h3v7h-3zM265 266h1v7h-1zM271 266h2v7h-2zM275 266h1v7h-1zM281 266h2v7h-2zM286 266h2v7h-2zM512 266h1v7h-1zM516 266h2v7h-2zM523 266h2v7h-2zM526 266h2v7h-2zM533 266h1v7h-1zM268 273h2v7h-2zM273 273h2v7h-2zM276 273h2v7h-2zM293 273h1v7h-1zM505 273h2v7h-2zM521 273h2v7h-2zM525 273h1v7h-1zM530 273h1v7h-1zM266 280h2v7h-2zM271 280h2v7h-2zM281 280h2v7h-2zM289 280h4v7h-4zM507 280h3v7h-3zM516 280h2v7h-2zM526 280h2v7h-2zM531 280h2v7h-2zM263 287h2v6h-2zM270 287h3v6h-3zM289 287h2v6h-2zM296 287h2v6h-2zM502 287h1v6h-1zM508 287h2v6h-2zM526 287h4v6h-4zM534 287h2v6h-2zM268 293h2v7h-2zM288 293h1v7h-1zM294 293h4v7h-4zM304 293h2v7h-2zM494 293h1v7h-1zM502 293h3v7h-3zM510 293h2v7h-2zM530 293h1v7h-1zM266 300h2v7h-2zM273 300h3v7h-3zM283 300h1v7h-1zM294 300h2v7h-2zM503 300h2v7h-2zM515 300h1v7h-1zM523 300h3v7h-3zM531 300h2v7h-2zM271 307h4v7h-4zM281 307h2v7h-2zM286 307h2v7h-2zM291 307h2v7h-2zM294 307h2v7h-2zM301 307h1v7h-1zM312 307h2v7h-2zM485 307h2v7h-2zM497 307h2v7h-2zM503 307h2v7h-2zM507 307h1v7h-1zM512 307h1v7h-1zM516 307h2v7h-2zM525 307h3v7h-3zM278 314h3v7h-3zM289 314h2v7h-2zM299 314h2v7h-2zM302 314h2v7h-2zM311 314h3v7h-3zM485 314h4v7h-4zM495 314h2v7h-2zM499 314h1v7h-1zM508 314h2v7h-2zM518 314h3v7h-3zM278 321h2v7h-2zM288 321h1v7h-1zM309 321h2v7h-2zM322 321h2v7h-2zM476 321h1v7h-1zM489 321h1v7h-1zM510 321h2v7h-2zM520 321h1v7h-1zM284 328h4v7h-4zM293 328h1v7h-1zM320 328h2v7h-2zM477 328h2v7h-2zM505 328h2v7h-2zM512 328h3v7h-3zM293 335h3v7h-3zM335 335h2v7h-2zM463 335h1v7h-1zM503 335h4v7h-4zM293 342h1v7h-1zM301 342h1v7h-1zM306 342h1v7h-1zM319 342h1v7h-1zM333 342h2v7h-2zM464 342h2v7h-2zM479 342h2v7h-2zM492 342h2v7h-2zM497 342h2v7h-2zM505 342h2v7h-2zM302 349h4v7h-4zM311 349h1v7h-1zM317 349h2v7h-2zM481 349h1v7h-1zM487 349h2v7h-2zM494 349h3v7h-3zM315 356h2v7h-2zM322 356h2v7h-2zM332 356h1v7h-1zM466 356h1v7h-1zM476 356h1v7h-1zM482 356h2v7h-2zM312 363h3v6h-3zM330 363h2v6h-2zM351 363h4v6h-4zM445 363h3v6h-3zM467 363h2v6h-2zM484 363h3v6h-3zM324 369h1v7h-1zM329 369h1v7h-1zM353 369h2v7h-2zM445 369h1v7h-1zM469 369h2v7h-2zM474 369h2v7h-2zM324 376h5v7h-5zM337 376h1v7h-1zM353 376h2v7h-2zM445 376h1v7h-1zM461 376h2v7h-2zM471 376h5v7h-5zM337 383h1v7h-1zM348 383h2v7h-2zM449 383h2v7h-2zM461 383h2v7h-2zM338 390h2v7h-2zM347 390h1v7h-1zM451 390h2v7h-2zM459 390h2v7h-2zM340 397h5v7h-5zM454 397h5v7h-5zM355 404h1v7h-1zM443 404h2v7h-2zM356 418h2v7h-2zM441 418h2v7h-2zM358 425h2v7h-2zM440 425h1v7h-1zM360 432h3v6h-3zM436 432h4v6h-4zM363 438h6v7h-6zM430 438h6v7h-6zM371 445h57v7h-57z"/>
<path fill="rgb(51,51,51)" d="M389 86h2v7h-2zM409 86h1v7h-1zM378 100h1v7h-1zM420 100h2v7h-2zM369 107h2v7h-2zM428 107h2v7h-2zM360 114h1v7h-1zM363 114h2v7h-2zM435 114h1v7h-1zM438 114h2v7h-2zM355 121h1v7h-1zM443 121h2v7h-2zM342 128h1v7h-1zM345 128h5v7h-5zM449 128h5v7h-5zM456 128h2v7h-2zM330 142h2v6h-2zM337 142h1v6h-1zM461 142h2v6h-2zM467 142h2v6h-2zM324 148h1v7h-1zM329 148h1v7h-1zM469 148h2v7h-2zM474 148h2v7h-2zM315 155h2v7h-2zM319 155h5v7h-5zM325 155h2v7h-2zM472 155h2v7h-2zM476 155h5v7h-5zM482 155h2v7h-2zM312 162h2v7h-2zM319 162h1v7h-1zM479 162h2v7h-2zM485 162h2v7h-2zM309 169h2v7h-2zM315 169h2v7h-2zM482 169h2v7h-2zM489 169h1v7h-1zM301 176h1v7h-1zM304 176h2v7h-2zM312 176h2v7h-2zM485 176h2v7h-2zM494 176h1v7h-1zM497 176h2v7h-2zM298 183h1v7h-1zM301 183h1v7h-1zM304 183h2v7h-2zM309 183h2v7h-2zM489 183h1v7h-1zM494 183h1v7h-1zM497 183h2v7h-2zM500 183h2v7h-2zM294 190h2v7h-2zM298 190h1v7h-1zM301 190h1v7h-1zM497 190h2v7h-2zM500 190h2v7h-2zM503 190h2v7h-2zM291 197h3v7h-3zM298 197h3v7h-3zM499 197h3v7h-3zM505 197h3v7h-3zM288 204h3v7h-3zM296 204h2v7h-2zM301 204h1v7h-1zM497 204h2v7h-2zM502 204h1v7h-1zM508 204h4v7h-4zM284 211h4v7h-4zM293 211h1v7h-1zM505 211h2v7h-2zM512 211h3v7h-3zM286 218h2v6h-2zM289 218h4v6h-4zM296 218h2v6h-2zM502 218h1v6h-1zM507 218h3v6h-3zM512 218h1v6h-1zM280 224h1v7h-1zM518 224h2v7h-2zM276 231h4v7h-4zM281 231h2v7h-2zM284 231h4v7h-4zM291 231h2v7h-2zM507 231h1v7h-1zM512 231h3v7h-3zM516 231h2v7h-2zM520 231h3v7h-3zM275 238h1v7h-1zM281 238h2v7h-2zM288 238h3v7h-3zM508 238h4v7h-4zM516 238h2v7h-2zM523 238h2v7h-2zM271 245h2v7h-2zM276 245h2v7h-2zM293 245h1v7h-1zM505 245h2v7h-2zM521 245h2v7h-2zM526 245h2v7h-2zM270 252h1v7h-1zM275 252h3v7h-3zM280 252h1v7h-1zM283 252h1v7h-1zM298 252h1v7h-1zM500 252h2v7h-2zM515 252h1v7h-1zM518 252h2v7h-2zM521 252h4v7h-4zM528 252h2v7h-2zM273 259h2v7h-2zM288 259h3v7h-3zM296 259h2v7h-2zM502 259h1v7h-1zM508 259h4v7h-4zM525 259h1v7h-1zM270 266h1v7h-1zM278 266h2v7h-2zM288 266h1v7h-1zM294 266h2v7h-2zM503 266h2v7h-2zM510 266h2v7h-2zM520 266h1v7h-1zM528 266h2v7h-2zM280 273h1v7h-1zM286 273h2v7h-2zM291 273h2v7h-2zM299 273h2v7h-2zM499 273h1v7h-1zM507 273h1v7h-1zM512 273h1v7h-1zM518 273h2v7h-2zM273 280h2v7h-2zM278 280h2v7h-2zM284 280h2v7h-2zM298 280h3v7h-3zM307 280h2v7h-2zM490 280h2v7h-2zM499 280h3v7h-3zM513 280h2v7h-2zM520 280h1v7h-1zM525 280h1v7h-1zM276 287h2v6h-2zM283 287h1v6h-1zM298 287h1v6h-1zM306 287h1v6h-1zM492 287h2v6h-2zM500 287h2v6h-2zM515 287h1v6h-1zM521 287h2v6h-2zM275 293h3v7h-3zM281 293h2v7h-2zM284 293h2v7h-2zM314 293h1v7h-1zM484 293h1v7h-1zM513 293h2v7h-2zM516 293h2v7h-2zM521 293h4v7h-4zM280 300h1v7h-1zM312 300h2v7h-2zM485 300h2v7h-2zM518 300h2v7h-2zM280 307h1v7h-1zM311 307h1v7h-1zM324 307h1v7h-1zM474 307h2v7h-2zM487 307h2v7h-2zM518 307h2v7h-2zM286 314h3v7h-3zM294 314h2v7h-2zM322 314h3v7h-3zM474 314h3v7h-3zM503 314h2v7h-2zM510 314h3v7h-3zM286 321h2v7h-2zM294 321h2v7h-2zM298 321h1v7h-1zM302 321h2v7h-2zM312 321h2v7h-2zM324 321h1v7h-1zM474 321h2v7h-2zM485 321h2v7h-2zM495 321h2v7h-2zM500 321h2v7h-2zM503 321h2v7h-2zM512 321h1v7h-1zM294 328h4v7h-4zM302 328h2v7h-2zM307 328h2v7h-2zM312 328h2v7h-2zM335 328h2v7h-2zM463 328h1v7h-1zM485 328h2v7h-2zM490 328h2v7h-2zM495 328h2v7h-2zM502 328h3v7h-3zM302 335h2v7h-2zM306 335h1v7h-1zM319 335h1v7h-1zM479 335h2v7h-2zM492 335h2v7h-2zM495 335h2v7h-2zM302 342h4v7h-4zM312 342h2v7h-2zM485 342h2v7h-2zM494 342h3v7h-3zM312 349h2v7h-2zM315 349h2v7h-2zM332 349h1v7h-1zM337 349h1v7h-1zM461 349h2v7h-2zM466 349h1v7h-1zM482 349h2v7h-2zM485 349h2v7h-2zM312 356h3v7h-3zM337 356h1v7h-1zM353 356h2v7h-2zM445 356h1v7h-1zM461 356h2v7h-2zM484 356h3v7h-3zM324 363h1v6h-1zM337 363h1v6h-1zM461 363h2v6h-2zM474 363h2v6h-2zM325 369h4v7h-4zM337 369h1v7h-1zM350 369h1v7h-1zM448 369h1v7h-1zM461 369h2v7h-2zM471 369h3v7h-3zM348 376h2v7h-2zM449 376h2v7h-2zM338 383h2v7h-2zM347 383h1v7h-1zM451 383h2v7h-2zM459 383h2v7h-2zM340 390h7v7h-7zM355 390h1v7h-1zM443 390h2v7h-2zM453 390h6v7h-6zM355 397h1v7h-1zM443 397h2v7h-2zM356 411h2v7h-2zM441 411h2v7h-2zM358 418h2v7h-2zM440 418h1v7h-1zM360 425h1v7h-1zM438 425h2v7h-2zM363 432h3v6h-3zM433 432h3v6h-3zM369 438h61v7h-61z"/>
<path fill="rgb(52,52,52)" d="M394 79h2v7h-2zM404 79h1v7h-1zM382 93h2v7h-2zM386 93h1v7h-1zM412 93h2v7h-2zM415 93h2v7h-2zM376 100h2v7h-2zM422 100h1v7h-1zM368 107h1v7h-1zM371 107h2v7h-2zM427 107h1v7h-1zM430 107h2v7h-2zM361 114h2v7h-2zM368 114h1v7h-1zM430 114h2v7h-2zM436 114h2v7h-2zM353 121h2v7h-2zM360 121h1v7h-1zM438 121h2v7h-2zM445 121h1v7h-1zM351 128h2v7h-2zM446 128h2v7h-2zM338 135h2v7h-2zM343 135h4v7h-4zM453 135h3v7h-3zM459 135h2v7h-2zM333 142h2v6h-2zM464 142h2v6h-2zM327 148h2v7h-2zM330 148h2v7h-2zM333 148h2v7h-2zM464 148h2v7h-2zM467 148h2v7h-2zM471 148h1v7h-1zM330 155h2v7h-2zM467 155h2v7h-2zM315 162h4v7h-4zM322 162h2v7h-2zM476 162h1v7h-1zM481 162h3v7h-3zM312 169h3v7h-3zM320 169h2v7h-2zM477 169h2v7h-2zM484 169h3v7h-3zM306 176h1v7h-1zM317 176h2v7h-2zM481 176h1v7h-1zM492 176h2v7h-2zM302 183h2v7h-2zM306 183h1v7h-1zM492 183h2v7h-2zM495 183h2v7h-2zM302 190h2v7h-2zM306 190h1v7h-1zM492 190h2v7h-2zM495 190h2v7h-2zM304 197h2v7h-2zM309 197h2v7h-2zM489 197h1v7h-1zM494 197h1v7h-1zM293 204h3v7h-3zM503 204h4v7h-4zM289 211h2v7h-2zM294 211h2v7h-2zM298 211h3v7h-3zM304 211h2v7h-2zM494 211h1v7h-1zM499 211h3v7h-3zM503 211h2v7h-2zM508 211h2v7h-2zM283 218h1v6h-1zM515 218h1v6h-1zM284 224h4v7h-4zM289 224h2v7h-2zM293 224h3v7h-3zM299 224h2v7h-2zM499 224h1v7h-1zM503 224h4v7h-4zM508 224h2v7h-2zM512 224h3v7h-3zM298 231h1v7h-1zM500 231h2v7h-2zM280 238h1v7h-1zM284 238h2v7h-2zM294 238h4v7h-4zM502 238h3v7h-3zM513 238h2v7h-2zM518 238h2v7h-2zM278 245h2v7h-2zM288 245h1v7h-1zM299 245h2v7h-2zM499 245h1v7h-1zM510 245h2v7h-2zM520 245h1v7h-1zM289 252h2v7h-2zM508 252h2v7h-2zM278 259h3v7h-3zM304 259h2v7h-2zM494 259h1v7h-1zM518 259h3v7h-3zM276 266h2v7h-2zM293 266h1v7h-1zM301 266h3v7h-3zM495 266h4v7h-4zM505 266h2v7h-2zM521 266h2v7h-2zM275 273h1v7h-1zM283 273h1v7h-1zM301 273h1v7h-1zM309 273h2v7h-2zM489 273h1v7h-1zM497 273h2v7h-2zM515 273h1v7h-1zM523 273h2v7h-2zM280 280h1v7h-1zM518 280h2v7h-2zM278 287h2v6h-2zM286 287h2v6h-2zM315 287h2v6h-2zM482 287h2v6h-2zM512 287h1v6h-1zM520 287h1v6h-1zM283 293h1v7h-1zM293 293h1v7h-1zM302 293h2v7h-2zM495 293h2v7h-2zM505 293h2v7h-2zM515 293h1v7h-1zM281 300h2v7h-2zM288 300h1v7h-1zM291 300h2v7h-2zM301 300h1v7h-1zM304 300h2v7h-2zM314 300h1v7h-1zM324 300h1v7h-1zM474 300h2v7h-2zM484 300h1v7h-1zM494 300h1v7h-1zM497 300h2v7h-2zM507 300h1v7h-1zM510 300h2v7h-2zM516 300h2v7h-2zM288 307h3v7h-3zM299 307h2v7h-2zM499 307h1v7h-1zM508 307h4v7h-4zM309 314h2v7h-2zM489 314h1v7h-1zM296 321h2v7h-2zM320 321h2v7h-2zM337 321h1v7h-1zM461 321h2v7h-2zM477 321h2v7h-2zM502 321h1v7h-1zM324 328h1v7h-1zM337 328h1v7h-1zM461 328h2v7h-2zM474 328h2v7h-2zM304 335h2v7h-2zM312 335h2v7h-2zM324 335h1v7h-1zM333 335h2v7h-2zM337 335h1v7h-1zM461 335h2v7h-2zM464 335h2v7h-2zM474 335h2v7h-2zM485 335h2v7h-2zM494 335h1v7h-1zM317 342h2v7h-2zM324 342h1v7h-1zM337 342h1v7h-1zM461 342h2v7h-2zM474 342h2v7h-2zM481 342h1v7h-1zM314 349h1v7h-1zM324 349h1v7h-1zM353 349h2v7h-2zM445 349h1v7h-1zM474 349h2v7h-2zM484 349h1v7h-1zM324 356h1v7h-1zM330 356h2v7h-2zM351 356h2v7h-2zM446 356h2v7h-2zM467 356h2v7h-2zM474 356h2v7h-2zM325 363h5v6h-5zM350 363h1v6h-1zM448 363h1v6h-1zM469 363h5v6h-5zM338 376h2v7h-2zM347 376h1v7h-1zM451 376h2v7h-2zM459 376h2v7h-2zM340 383h7v7h-7zM355 383h1v7h-1zM443 383h2v7h-2zM453 383h6v7h-6zM356 404h2v7h-2zM441 404h2v7h-2zM358 411h2v7h-2zM440 411h1v7h-1zM360 418h1v7h-1zM438 418h2v7h-2zM361 425h4v7h-4zM435 425h3v7h-3zM366 432h15v6h-15zM418 432h15v6h-15z"/>
<path fill="rgb(53,53,53)" d="M379 100h2v7h-2zM418 100h2v7h-2zM376 107h2v7h-2zM422 107h1v7h-1zM356 121h2v7h-2zM441 121h2v7h-2zM356 128h2v7h-2zM441 128h2v7h-2zM342 135h1v7h-1zM348 135h2v7h-2zM449 135h2v7h-2zM456 135h2v7h-2zM335 142h2v6h-2zM342 142h1v6h-1zM456 142h2v6h-2zM463 142h1v6h-1zM338 148h2v7h-2zM459 148h2v7h-2zM324 155h1v7h-1zM327 155h2v7h-2zM471 155h1v7h-1zM474 155h2v7h-2zM324 162h1v7h-1zM327 162h2v7h-2zM471 162h1v7h-1zM474 162h2v7h-2zM319 169h1v7h-1zM325 169h2v7h-2zM472 169h2v7h-2zM479 169h2v7h-2zM309 176h3v7h-3zM322 176h2v7h-2zM476 176h1v7h-1zM487 176h3v7h-3zM314 183h1v7h-1zM484 183h1v7h-1zM299 190h2v7h-2zM307 190h2v7h-2zM312 190h2v7h-2zM485 190h2v7h-2zM490 190h2v7h-2zM499 190h1v7h-1zM296 197h2v7h-2zM302 197h2v7h-2zM495 197h2v7h-2zM502 197h1v7h-1zM298 204h1v7h-1zM307 204h2v7h-2zM490 204h2v7h-2zM500 204h2v7h-2zM291 211h2v7h-2zM311 211h1v7h-1zM487 211h2v7h-2zM507 211h1v7h-1zM288 218h1v6h-1zM301 218h3v6h-3zM495 218h4v6h-4zM510 218h2v6h-2zM306 224h1v7h-1zM492 224h2v7h-2zM283 231h1v7h-1zM289 231h2v7h-2zM293 231h1v7h-1zM304 231h2v7h-2zM494 231h1v7h-1zM505 231h2v7h-2zM508 231h2v7h-2zM515 231h1v7h-1zM301 238h3v7h-3zM309 238h2v7h-2zM489 238h1v7h-1zM495 238h4v7h-4zM283 245h3v7h-3zM294 245h2v7h-2zM301 245h1v7h-1zM307 245h2v7h-2zM490 245h2v7h-2zM497 245h2v7h-2zM503 245h2v7h-2zM513 245h3v7h-3zM281 252h2v7h-2zM286 252h2v7h-2zM306 252h1v7h-1zM492 252h2v7h-2zM512 252h1v7h-1zM516 252h2v7h-2zM284 259h2v7h-2zM294 259h2v7h-2zM302 259h2v7h-2zM312 259h2v7h-2zM485 259h2v7h-2zM495 259h2v7h-2zM503 259h2v7h-2zM513 259h2v7h-2zM283 266h3v7h-3zM311 266h1v7h-1zM487 266h2v7h-2zM513 266h3v7h-3zM281 273h2v7h-2zM516 273h2v7h-2zM288 280h1v7h-1zM306 280h1v7h-1zM317 280h2v7h-2zM481 280h1v7h-1zM492 280h2v7h-2zM510 280h2v7h-2zM284 287h2v6h-2zM291 287h2v6h-2zM294 287h2v6h-2zM304 287h2v6h-2zM494 287h1v6h-1zM503 287h2v6h-2zM507 287h1v6h-1zM513 287h2v6h-2zM289 293h2v7h-2zM306 293h1v7h-1zM325 293h2v7h-2zM472 293h2v7h-2zM492 293h2v7h-2zM508 293h2v7h-2zM289 300h2v7h-2zM296 300h2v7h-2zM325 300h2v7h-2zM472 300h2v7h-2zM502 300h1v7h-1zM508 300h2v7h-2zM296 307h2v7h-2zM304 307h2v7h-2zM314 307h1v7h-1zM322 307h2v7h-2zM476 307h1v7h-1zM484 307h1v7h-1zM494 307h1v7h-1zM502 307h1v7h-1zM296 314h3v7h-3zM304 314h2v7h-2zM337 314h1v7h-1zM461 314h2v7h-2zM494 314h1v7h-1zM500 314h3v7h-3zM304 321h2v7h-2zM307 321h2v7h-2zM335 321h2v7h-2zM463 321h1v7h-1zM490 321h2v7h-2zM494 321h1v7h-1zM304 328h3v7h-3zM319 328h1v7h-1zM479 328h2v7h-2zM492 328h3v7h-3zM317 335h2v7h-2zM481 335h1v7h-1zM314 342h3v7h-3zM332 342h1v7h-1zM353 342h2v7h-2zM445 342h1v7h-1zM466 342h1v7h-1zM482 342h3v7h-3zM330 349h2v7h-2zM351 349h2v7h-2zM446 349h2v7h-2zM467 349h2v7h-2zM325 356h5v7h-5zM469 356h5v7h-5zM338 363h2v6h-2zM459 363h2v6h-2zM338 369h2v7h-2zM348 369h2v7h-2zM355 369h1v7h-1zM443 369h2v7h-2zM449 369h2v7h-2zM459 369h2v7h-2zM340 376h2v7h-2zM345 376h2v7h-2zM355 376h1v7h-1zM443 376h2v7h-2zM453 376h1v7h-1zM458 376h1v7h-1zM356 397h2v7h-2zM441 397h2v7h-2zM361 418h2v7h-2zM436 418h2v7h-2zM365 425h4v7h-4zM430 425h5v7h-5zM381 432h37v6h-37z"/>
<path fill="rgb(54,54,54)" d="M384 93h2v7h-2zM414 93h1v7h-1zM374 107h2v7h-2zM423 107h2v7h-2zM365 114h3v7h-3zM432 114h3v7h-3zM358 121h2v7h-2zM365 121h1v7h-1zM433 121h2v7h-2zM440 121h1v7h-1zM350 128h1v7h-1zM353 128h2v7h-2zM445 128h1v7h-1zM448 128h1v7h-1zM350 135h1v7h-1zM448 135h1v7h-1zM338 142h4v6h-4zM347 142h1v6h-1zM451 142h2v6h-2zM458 142h3v6h-3zM332 148h1v7h-1zM343 148h2v7h-2zM454 148h2v7h-2zM466 148h1v7h-1zM335 155h2v7h-2zM463 155h1v7h-1zM320 162h2v7h-2zM329 162h1v7h-1zM469 162h2v7h-2zM477 162h2v7h-2zM317 169h2v7h-2zM330 169h2v7h-2zM467 169h2v7h-2zM481 169h1v7h-1zM314 176h3v7h-3zM482 176h3v7h-3zM307 183h2v7h-2zM311 183h1v7h-1zM315 183h2v7h-2zM320 183h2v7h-2zM477 183h2v7h-2zM482 183h2v7h-2zM487 183h2v7h-2zM490 183h2v7h-2zM304 190h2v7h-2zM311 190h1v7h-1zM317 190h2v7h-2zM481 190h1v7h-1zM487 190h2v7h-2zM494 190h1v7h-1zM301 197h1v7h-1zM315 197h2v7h-2zM482 197h2v7h-2zM497 197h2v7h-2zM299 204h2v7h-2zM302 204h2v7h-2zM306 204h1v7h-1zM312 204h2v7h-2zM485 204h2v7h-2zM492 204h2v7h-2zM495 204h2v7h-2zM499 204h1v7h-1zM293 218h3v6h-3zM298 218h1v6h-1zM307 218h2v6h-2zM490 218h2v6h-2zM500 218h2v6h-2zM503 218h4v6h-4zM291 224h2v7h-2zM301 224h1v7h-1zM497 224h2v7h-2zM507 224h1v7h-1zM288 231h1v7h-1zM296 231h2v7h-2zM311 231h1v7h-1zM487 231h2v7h-2zM502 231h1v7h-1zM510 231h2v7h-2zM286 238h2v7h-2zM291 238h2v7h-2zM507 238h1v7h-1zM512 238h1v7h-1zM291 245h2v7h-2zM507 245h1v7h-1zM293 252h1v7h-1zM299 252h2v7h-2zM304 252h2v7h-2zM314 252h1v7h-1zM484 252h1v7h-1zM494 252h1v7h-1zM499 252h1v7h-1zM505 252h2v7h-2zM286 259h2v7h-2zM291 259h2v7h-2zM298 259h1v7h-1zM500 259h2v7h-2zM507 259h1v7h-1zM512 259h1v7h-1zM289 266h2v7h-2zM296 266h2v7h-2zM309 266h2v7h-2zM489 266h1v7h-1zM502 266h1v7h-1zM508 266h2v7h-2zM288 273h3v7h-3zM294 273h2v7h-2zM307 273h2v7h-2zM319 273h1v7h-1zM479 273h2v7h-2zM490 273h2v7h-2zM503 273h2v7h-2zM508 273h4v7h-4zM286 280h2v7h-2zM293 280h1v7h-1zM296 280h2v7h-2zM315 280h2v7h-2zM482 280h2v7h-2zM502 280h1v7h-1zM505 280h2v7h-2zM512 280h1v7h-1zM307 287h2v6h-2zM314 287h1v6h-1zM327 287h2v6h-2zM471 287h1v6h-1zM484 287h1v6h-1zM490 287h2v6h-2zM291 293h2v7h-2zM298 293h1v7h-1zM312 293h2v7h-2zM315 293h2v7h-2zM482 293h2v7h-2zM485 293h2v7h-2zM500 293h2v7h-2zM507 293h1v7h-1zM299 300h2v7h-2zM311 300h1v7h-1zM487 300h2v7h-2zM499 300h1v7h-1zM298 307h1v7h-1zM325 307h2v7h-2zM337 307h1v7h-1zM461 307h2v7h-2zM472 307h2v7h-2zM500 307h2v7h-2zM314 314h1v7h-1zM484 314h1v7h-1zM306 321h1v7h-1zM314 321h1v7h-1zM484 321h1v7h-1zM492 321h2v7h-2zM314 328h1v7h-1zM333 328h2v7h-2zM464 328h2v7h-2zM484 328h1v7h-1zM314 335h3v7h-3zM482 335h3v7h-3zM325 349h2v7h-2zM472 349h2v7h-2zM338 356h2v7h-2zM350 356h1v7h-1zM355 356h1v7h-1zM443 356h2v7h-2zM448 356h1v7h-1zM459 356h2v7h-2zM348 363h2v6h-2zM355 363h1v6h-1zM443 363h2v6h-2zM449 363h2v6h-2zM340 369h2v7h-2zM347 369h1v7h-1zM451 369h2v7h-2zM458 369h1v7h-1zM342 376h3v7h-3zM454 376h4v7h-4zM356 390h2v7h-2zM441 390h2v7h-2zM358 404h2v7h-2zM440 404h1v7h-1zM360 411h1v7h-1zM438 411h2v7h-2zM363 418h3v7h-3zM433 418h3v7h-3zM369 425h61v7h-61z"/>
<path fill="rgb(55,55,55)" d="M373 107h1v7h-1zM425 107h2v7h-2zM373 114h1v7h-1zM425 114h2v7h-2zM361 121h2v7h-2zM436 121h2v7h-2zM358 128h2v7h-2zM440 128h1v7h-1zM347 135h1v7h-1zM355 135h1v7h-1zM443 135h2v7h-2zM451 135h2v7h-2zM351 142h2v6h-2zM446 142h2v6h-2zM335 148h3v7h-3zM461 148h3v7h-3zM329 155h1v7h-1zM332 155h1v7h-1zM466 155h1v7h-1zM469 155h2v7h-2zM333 162h2v7h-2zM464 162h2v7h-2zM324 169h1v7h-1zM474 169h2v7h-2zM319 183h1v7h-1zM325 183h2v7h-2zM472 183h2v7h-2zM479 183h2v7h-2zM324 190h1v7h-1zM474 190h2v7h-2zM306 197h1v7h-1zM314 197h1v7h-1zM484 197h1v7h-1zM492 197h2v7h-2zM319 204h1v7h-1zM479 204h2v7h-2zM296 211h2v7h-2zM302 211h2v7h-2zM306 211h1v7h-1zM317 211h2v7h-2zM481 211h1v7h-1zM492 211h2v7h-2zM495 211h2v7h-2zM502 211h1v7h-1zM309 218h2v6h-2zM315 218h2v6h-2zM482 218h2v6h-2zM489 218h1v6h-1zM298 224h1v7h-1zM312 224h2v7h-2zM485 224h2v7h-2zM500 224h2v7h-2zM302 231h2v7h-2zM319 231h1v7h-1zM479 231h2v7h-2zM495 231h2v7h-2zM293 238h1v7h-1zM317 238h2v7h-2zM481 238h1v7h-1zM505 238h2v7h-2zM289 245h2v7h-2zM315 245h2v7h-2zM482 245h2v7h-2zM508 245h2v7h-2zM288 252h1v7h-1zM296 252h2v7h-2zM502 252h1v7h-1zM510 252h2v7h-2zM311 259h1v7h-1zM320 259h2v7h-2zM477 259h2v7h-2zM487 259h2v7h-2zM291 266h2v7h-2zM319 266h1v7h-1zM479 266h2v7h-2zM507 266h1v7h-1zM298 273h1v7h-1zM317 273h2v7h-2zM481 273h1v7h-1zM500 273h2v7h-2zM309 280h2v7h-2zM327 280h2v7h-2zM471 280h1v7h-1zM489 280h1v7h-1zM293 287h1v6h-1zM299 287h2v6h-2zM499 287h1v6h-1zM505 287h2v6h-2zM301 293h1v7h-1zM497 293h2v7h-2zM298 300h1v7h-1zM338 300h2v7h-2zM459 300h2v7h-2zM500 300h2v7h-2zM309 307h2v7h-2zM338 307h2v7h-2zM459 307h2v7h-2zM489 307h1v7h-1zM306 314h3v7h-3zM320 314h2v7h-2zM325 314h2v7h-2zM335 314h2v7h-2zM338 314h2v7h-2zM459 314h2v7h-2zM463 314h1v7h-1zM472 314h2v7h-2zM477 314h2v7h-2zM490 314h4v7h-4zM319 321h1v7h-1zM325 321h2v7h-2zM472 321h2v7h-2zM479 321h2v7h-2zM315 328h4v7h-4zM481 328h3v7h-3zM325 335h2v7h-2zM332 335h1v7h-1zM353 335h2v7h-2zM445 335h1v7h-1zM466 335h1v7h-1zM472 335h2v7h-2zM325 342h2v7h-2zM330 342h2v7h-2zM338 342h2v7h-2zM351 342h2v7h-2zM355 342h1v7h-1zM443 342h2v7h-2zM446 342h2v7h-2zM459 342h2v7h-2zM467 342h2v7h-2zM472 342h2v7h-2zM327 349h3v7h-3zM338 349h2v7h-2zM355 349h1v7h-1zM443 349h2v7h-2zM459 349h2v7h-2zM469 349h3v7h-3zM340 363h2v6h-2zM458 363h1v6h-1zM342 369h5v7h-5zM453 369h5v7h-5zM356 383h2v7h-2zM441 383h2v7h-2zM358 397h2v7h-2zM440 397h1v7h-1zM360 404h1v7h-1zM438 404h2v7h-2zM361 411h2v7h-2zM436 411h2v7h-2zM366 418h3v7h-3zM430 418h3v7h-3z"/>
<path fill="rgb(56,56,56)" d="M396 79h3v7h-3zM400 79h4v7h-4zM384 100h2v7h-2zM414 100h1v7h-1zM355 128h1v7h-1zM363 128h2v7h-2zM435 128h1v7h-1zM443 128h2v7h-2zM353 135h2v7h-2zM445 135h1v7h-1zM345 142h2v6h-2zM453 142h1v6h-1zM337 155h1v7h-1zM342 155h1v7h-1zM456 155h2v7h-2zM461 155h2v7h-2zM325 162h2v7h-2zM332 162h1v7h-1zM338 162h2v7h-2zM459 162h2v7h-2zM466 162h1v7h-1zM472 162h2v7h-2zM322 169h2v7h-2zM337 169h1v7h-1zM461 169h2v7h-2zM476 169h1v7h-1zM319 176h1v7h-1zM324 176h1v7h-1zM329 176h1v7h-1zM469 176h2v7h-2zM474 176h2v7h-2zM479 176h2v7h-2zM312 183h2v7h-2zM485 183h2v7h-2zM309 190h2v7h-2zM489 190h1v7h-1zM307 197h2v7h-2zM311 197h1v7h-1zM320 197h2v7h-2zM477 197h2v7h-2zM487 197h2v7h-2zM490 197h2v7h-2zM301 211h1v7h-1zM309 211h2v7h-2zM489 211h1v7h-1zM497 211h2v7h-2zM314 218h1v6h-1zM322 218h2v6h-2zM476 218h1v6h-1zM484 218h1v6h-1zM296 224h2v7h-2zM307 224h2v7h-2zM314 224h1v7h-1zM320 224h2v7h-2zM477 224h2v7h-2zM484 224h1v7h-1zM490 224h2v7h-2zM502 224h1v7h-1zM294 231h2v7h-2zM299 231h2v7h-2zM499 231h1v7h-1zM503 231h2v7h-2zM298 245h1v7h-1zM306 245h1v7h-1zM324 245h1v7h-1zM474 245h2v7h-2zM492 245h2v7h-2zM500 245h2v7h-2zM312 252h2v7h-2zM322 252h2v7h-2zM476 252h1v7h-1zM485 252h2v7h-2zM293 259h1v7h-1zM505 259h2v7h-2zM299 266h2v7h-2zM320 266h2v7h-2zM330 266h2v7h-2zM467 266h2v7h-2zM477 266h2v7h-2zM499 266h1v7h-1zM302 273h2v7h-2zM329 273h1v7h-1zM469 273h2v7h-2zM495 273h2v7h-2zM294 280h2v7h-2zM301 280h1v7h-1zM329 280h1v7h-1zM469 280h2v7h-2zM497 280h2v7h-2zM503 280h2v7h-2zM302 287h2v6h-2zM317 287h2v6h-2zM325 287h2v6h-2zM472 287h2v6h-2zM481 287h1v6h-1zM495 287h2v6h-2zM299 293h2v7h-2zM324 293h1v7h-1zM327 293h2v7h-2zM338 293h2v7h-2zM459 293h2v7h-2zM471 293h1v7h-1zM474 293h2v7h-2zM499 293h1v7h-1zM306 300h1v7h-1zM322 300h2v7h-2zM337 300h1v7h-1zM461 300h2v7h-2zM476 300h1v7h-1zM492 300h2v7h-2zM306 307h3v7h-3zM490 307h4v7h-4zM338 321h2v7h-2zM459 321h2v7h-2zM325 328h2v7h-2zM338 328h2v7h-2zM355 328h1v7h-1zM443 328h2v7h-2zM459 328h2v7h-2zM472 328h2v7h-2zM338 335h2v7h-2zM355 335h1v7h-1zM443 335h2v7h-2zM459 335h2v7h-2zM327 342h3v7h-3zM469 342h3v7h-3zM350 349h1v7h-1zM448 349h1v7h-1zM347 363h1v6h-1zM451 363h2v6h-2zM356 376h2v7h-2zM441 376h2v7h-2zM363 411h2v7h-2zM435 411h1v7h-1zM369 418h9v7h-9zM422 418h8v7h-8z"/>
<path fill="rgb(57,57,57)" d="M399 79h1v7h-1zM382 100h2v7h-2zM415 100h2v7h-2zM369 114h2v7h-2zM428 114h2v7h-2zM363 121h2v7h-2zM366 121h2v7h-2zM371 121h2v7h-2zM427 121h1v7h-1zM432 121h1v7h-1zM435 121h1v7h-1zM360 135h1v7h-1zM438 135h2v7h-2zM343 142h2v6h-2zM454 142h2v6h-2zM340 148h2v7h-2zM350 148h1v7h-1zM448 148h1v7h-1zM458 148h1v7h-1zM333 155h2v7h-2zM340 155h2v7h-2zM458 155h1v7h-1zM464 155h2v7h-2zM320 176h2v7h-2zM327 176h2v7h-2zM471 176h1v7h-1zM477 176h2v7h-2zM332 183h1v7h-1zM466 183h1v7h-1zM315 190h2v7h-2zM319 190h1v7h-1zM330 190h2v7h-2zM467 190h2v7h-2zM479 190h2v7h-2zM482 190h2v7h-2zM322 197h2v7h-2zM476 197h1v7h-1zM304 204h2v7h-2zM314 204h1v7h-1zM484 204h1v7h-1zM494 204h1v7h-1zM324 211h1v7h-1zM474 211h2v7h-2zM299 218h2v6h-2zM499 218h1v6h-1zM304 224h2v7h-2zM494 224h1v7h-1zM306 231h1v7h-1zM312 231h2v7h-2zM327 231h2v7h-2zM471 231h1v7h-1zM485 231h2v7h-2zM492 231h2v7h-2zM298 238h1v7h-1zM307 238h2v7h-2zM325 238h2v7h-2zM472 238h2v7h-2zM490 238h2v7h-2zM500 238h2v7h-2zM296 245h2v7h-2zM314 245h1v7h-1zM484 245h1v7h-1zM502 245h1v7h-1zM294 252h2v7h-2zM503 252h2v7h-2zM322 259h2v7h-2zM476 259h1v7h-1zM304 266h2v7h-2zM494 266h1v7h-1zM296 273h2v7h-2zM311 273h1v7h-1zM487 273h2v7h-2zM502 273h1v7h-1zM304 280h2v7h-2zM494 280h1v7h-1zM301 287h1v6h-1zM340 287h2v6h-2zM458 287h1v6h-1zM497 287h2v6h-2zM307 293h2v7h-2zM490 293h2v7h-2zM309 300h2v7h-2zM315 300h2v7h-2zM482 300h2v7h-2zM489 300h1v7h-1zM315 307h2v7h-2zM320 307h2v7h-2zM477 307h2v7h-2zM482 307h2v7h-2zM315 314h2v7h-2zM482 314h2v7h-2zM315 321h4v7h-4zM333 321h2v7h-2zM464 321h2v7h-2zM481 321h3v7h-3zM353 328h2v7h-2zM445 328h1v7h-1zM327 335h2v7h-2zM471 335h1v7h-1zM340 356h2v7h-2zM348 356h2v7h-2zM449 356h2v7h-2zM458 356h1v7h-1zM342 363h5v6h-5zM453 363h5v6h-5zM358 390h2v7h-2zM440 390h1v7h-1zM360 397h1v7h-1zM438 397h2v7h-2zM361 404h2v7h-2zM436 404h2v7h-2zM365 411h3v7h-3zM432 411h3v7h-3zM378 418h44v7h-44z"/>
<path fill="rgb(58,58,58)" d="M391 86h1v7h-1zM407 86h2v7h-2zM381 100h1v7h-1zM417 100h1v7h-1zM374 114h2v7h-2zM423 114h2v7h-2zM361 128h2v7h-2zM436 128h2v7h-2zM351 135h2v7h-2zM446 135h2v7h-2zM358 142h2v6h-2zM440 142h1v6h-1zM342 148h1v7h-1zM345 148h2v7h-2zM453 148h1v7h-1zM456 148h2v7h-2zM347 155h1v7h-1zM451 155h2v7h-2zM330 162h2v7h-2zM345 162h2v7h-2zM453 162h1v7h-1zM467 162h2v7h-2zM327 169h2v7h-2zM332 169h1v7h-1zM466 169h1v7h-1zM471 169h1v7h-1zM333 176h2v7h-2zM464 176h2v7h-2zM317 183h2v7h-2zM481 183h1v7h-1zM314 190h1v7h-1zM322 190h2v7h-2zM476 190h1v7h-1zM484 190h1v7h-1zM329 197h1v7h-1zM469 197h2v7h-2zM309 204h3v7h-3zM325 204h2v7h-2zM472 204h2v7h-2zM487 204h3v7h-3zM315 211h2v7h-2zM482 211h2v7h-2zM304 218h2v6h-2zM330 218h2v6h-2zM467 218h2v6h-2zM494 218h1v6h-1zM329 224h1v7h-1zM469 224h2v7h-2zM301 231h1v7h-1zM497 231h2v7h-2zM299 238h2v7h-2zM304 238h2v7h-2zM311 238h1v7h-1zM315 238h2v7h-2zM482 238h2v7h-2zM487 238h2v7h-2zM494 238h1v7h-1zM499 238h1v7h-1zM309 245h2v7h-2zM489 245h1v7h-1zM307 252h2v7h-2zM490 252h2v7h-2zM299 259h3v7h-3zM306 259h1v7h-1zM332 259h1v7h-1zM466 259h1v7h-1zM492 259h2v7h-2zM497 259h3v7h-3zM298 266h1v7h-1zM312 266h2v7h-2zM485 266h2v7h-2zM500 266h2v7h-2zM306 273h1v7h-1zM492 273h2v7h-2zM302 280h2v7h-2zM319 280h1v7h-1zM479 280h2v7h-2zM495 280h2v7h-2zM311 293h1v7h-1zM340 293h2v7h-2zM458 293h1v7h-1zM487 293h2v7h-2zM307 300h2v7h-2zM490 300h2v7h-2zM335 307h2v7h-2zM463 307h1v7h-1zM319 314h1v7h-1zM479 314h2v7h-2zM355 321h1v7h-1zM443 321h2v7h-2zM332 328h1v7h-1zM466 328h1v7h-1zM329 335h3v7h-3zM351 335h2v7h-2zM446 335h2v7h-2zM467 335h4v7h-4zM340 349h2v7h-2zM458 349h1v7h-1zM342 356h1v7h-1zM347 356h1v7h-1zM451 356h2v7h-2zM456 356h2v7h-2zM356 369h2v7h-2zM441 369h2v7h-2zM358 383h2v7h-2zM440 383h1v7h-1zM363 404h2v7h-2zM435 404h1v7h-1zM368 411h3v7h-3zM428 411h4v7h-4z"/>
<path fill="rgb(60,60,60)" d="M387 93h2v7h-2zM410 93h2v7h-2zM378 107h1v7h-1zM381 107h3v7h-3zM415 107h3v7h-3zM420 107h2v7h-2zM371 114h2v7h-2zM427 114h1v7h-1zM369 121h2v7h-2zM428 121h2v7h-2zM360 128h1v7h-1zM369 128h2v7h-2zM428 128h2v7h-2zM438 128h2v7h-2zM356 135h2v7h-2zM361 135h2v7h-2zM436 135h2v7h-2zM441 135h2v7h-2zM348 142h3v6h-3zM353 142h2v6h-2zM445 142h1v6h-1zM448 142h3v6h-3zM348 148h2v7h-2zM356 148h2v7h-2zM441 148h2v7h-2zM449 148h2v7h-2zM338 155h2v7h-2zM348 155h2v7h-2zM449 155h2v7h-2zM459 155h2v7h-2zM335 162h3v7h-3zM340 162h2v7h-2zM458 162h1v7h-1zM461 162h3v7h-3zM329 169h1v7h-1zM335 169h2v7h-2zM343 169h2v7h-2zM454 169h2v7h-2zM463 169h1v7h-1zM469 169h2v7h-2zM325 176h2v7h-2zM335 176h2v7h-2zM340 176h3v7h-3zM456 176h3v7h-3zM463 176h1v7h-1zM472 176h2v7h-2zM322 183h3v7h-3zM327 183h2v7h-2zM338 183h2v7h-2zM459 183h2v7h-2zM471 183h1v7h-1zM474 183h3v7h-3zM329 190h1v7h-1zM337 190h1v7h-1zM461 190h2v7h-2zM469 190h2v7h-2zM312 197h2v7h-2zM317 197h2v7h-2zM327 197h2v7h-2zM335 197h2v7h-2zM463 197h1v7h-1zM471 197h1v7h-1zM481 197h1v7h-1zM485 197h2v7h-2zM317 204h2v7h-2zM320 204h2v7h-2zM327 204h2v7h-2zM333 204h2v7h-2zM464 204h2v7h-2zM471 204h1v7h-1zM477 204h2v7h-2zM481 204h1v7h-1zM307 211h2v7h-2zM312 211h2v7h-2zM319 211h1v7h-1zM325 211h2v7h-2zM332 211h1v7h-1zM466 211h1v7h-1zM472 211h2v7h-2zM479 211h2v7h-2zM485 211h2v7h-2zM490 211h2v7h-2zM306 218h1v6h-1zM311 218h1v6h-1zM487 218h2v6h-2zM492 218h2v6h-2zM302 224h2v7h-2zM309 224h3v7h-3zM319 224h1v7h-1zM479 224h2v7h-2zM487 224h3v7h-3zM495 224h2v7h-2zM307 231h4v7h-4zM317 231h2v7h-2zM337 231h1v7h-1zM461 231h2v7h-2zM481 231h1v7h-1zM489 231h3v7h-3zM306 238h1v7h-1zM335 238h2v7h-2zM463 238h1v7h-1zM492 238h2v7h-2zM302 245h4v7h-4zM317 245h2v7h-2zM325 245h2v7h-2zM333 245h2v7h-2zM464 245h2v7h-2zM472 245h2v7h-2zM481 245h1v7h-1zM494 245h3v7h-3zM301 252h3v7h-3zM315 252h2v7h-2zM324 252h1v7h-1zM332 252h3v7h-3zM464 252h3v7h-3zM474 252h2v7h-2zM482 252h2v7h-2zM495 252h4v7h-4zM309 259h2v7h-2zM314 259h1v7h-1zM319 259h1v7h-1zM330 259h2v7h-2zM467 259h2v7h-2zM479 259h2v7h-2zM484 259h1v7h-1zM489 259h1v7h-1zM306 266h3v7h-3zM317 266h2v7h-2zM329 266h1v7h-1zM469 266h2v7h-2zM481 266h1v7h-1zM490 266h4v7h-4zM304 273h2v7h-2zM315 273h2v7h-2zM320 273h2v7h-2zM327 273h2v7h-2zM330 273h2v7h-2zM342 273h1v7h-1zM456 273h2v7h-2zM467 273h2v7h-2zM471 273h1v7h-1zM477 273h2v7h-2zM482 273h2v7h-2zM494 273h1v7h-1zM311 280h1v7h-1zM314 280h1v7h-1zM325 280h2v7h-2zM340 280h3v7h-3zM456 280h3v7h-3zM472 280h2v7h-2zM484 280h1v7h-1zM487 280h2v7h-2zM309 287h5v6h-5zM324 287h1v6h-1zM329 287h1v6h-1zM338 287h2v6h-2zM459 287h2v6h-2zM469 287h2v6h-2zM474 287h2v6h-2zM485 287h5v6h-5zM309 293h2v7h-2zM317 293h2v7h-2zM322 293h2v7h-2zM337 293h1v7h-1zM461 293h2v7h-2zM476 293h1v7h-1zM481 293h1v7h-1zM489 293h1v7h-1zM317 300h2v7h-2zM320 300h2v7h-2zM327 300h2v7h-2zM340 300h2v7h-2zM458 300h1v7h-1zM471 300h1v7h-1zM477 300h2v7h-2zM481 300h1v7h-1zM317 307h3v7h-3zM327 307h2v7h-2zM355 307h1v7h-1zM443 307h2v7h-2zM471 307h1v7h-1zM479 307h3v7h-3zM317 314h2v7h-2zM327 314h2v7h-2zM333 314h2v7h-2zM355 314h1v7h-1zM443 314h2v7h-2zM464 314h2v7h-2zM471 314h1v7h-1zM481 314h1v7h-1zM327 321h2v7h-2zM332 321h1v7h-1zM353 321h2v7h-2zM445 321h1v7h-1zM466 321h1v7h-1zM471 321h1v7h-1zM327 328h5v7h-5zM340 328h2v7h-2zM351 328h2v7h-2zM446 328h2v7h-2zM458 328h1v7h-1zM467 328h5v7h-5zM340 335h2v7h-2zM458 335h1v7h-1zM340 342h2v7h-2zM350 342h1v7h-1zM448 342h1v7h-1zM458 342h1v7h-1zM342 349h1v7h-1zM347 349h3v7h-3zM356 349h2v7h-2zM441 349h2v7h-2zM449 349h4v7h-4zM456 349h2v7h-2zM343 356h4v7h-4zM356 356h2v7h-2zM441 356h2v7h-2zM453 356h3v7h-3zM356 363h2v6h-2zM441 363h2v6h-2zM358 376h2v7h-2zM440 376h1v7h-1zM360 390h3v7h-3zM436 390h4v7h-4zM361 397h4v7h-4zM435 397h3v7h-3zM365 404h6v7h-6zM428 404h7v7h-7zM371 411h57v7h-57z"/>
<path fill="rgb(63,63,63)" d="M381 114h1v7h-1zM417 114h1v7h-1zM368 121h1v7h-1zM373 121h1v7h-1zM425 121h2v7h-2zM430 121h2v7h-2zM365 128h1v7h-1zM368 128h1v7h-1zM430 128h2v7h-2zM433 128h2v7h-2zM358 135h2v7h-2zM366 135h3v7h-3zM430 135h3v7h-3zM440 135h1v7h-1zM356 142h2v6h-2zM366 142h2v6h-2zM432 142h1v6h-1zM441 142h2v6h-2zM347 148h1v7h-1zM355 148h1v7h-1zM443 148h2v7h-2zM451 148h2v7h-2zM343 155h4v7h-4zM353 155h3v7h-3zM443 155h3v7h-3zM453 155h3v7h-3zM343 162h2v7h-2zM347 162h1v7h-1zM351 162h4v7h-4zM445 162h3v7h-3zM451 162h2v7h-2zM454 162h2v7h-2zM333 169h2v7h-2zM338 169h2v7h-2zM342 169h1v7h-1zM350 169h1v7h-1zM448 169h1v7h-1zM456 169h2v7h-2zM459 169h2v7h-2zM464 169h2v7h-2zM330 176h3v7h-3zM348 176h2v7h-2zM449 176h2v7h-2zM466 176h3v7h-3zM330 183h2v7h-2zM333 183h2v7h-2zM340 183h2v7h-2zM347 183h1v7h-1zM451 183h2v7h-2zM458 183h1v7h-1zM464 183h2v7h-2zM467 183h2v7h-2zM320 190h2v7h-2zM325 190h2v7h-2zM338 190h2v7h-2zM345 190h2v7h-2zM453 190h1v7h-1zM459 190h2v7h-2zM472 190h2v7h-2zM477 190h2v7h-2zM319 197h1v7h-1zM343 197h2v7h-2zM454 197h2v7h-2zM479 197h2v7h-2zM315 204h2v7h-2zM342 204h1v7h-1zM456 204h2v7h-2zM482 204h2v7h-2zM314 211h1v7h-1zM322 211h2v7h-2zM476 211h1v7h-1zM484 211h1v7h-1zM312 218h2v6h-2zM317 218h2v6h-2zM320 218h2v6h-2zM324 218h1v6h-1zM340 218h2v6h-2zM458 218h1v6h-1zM474 218h2v6h-2zM477 218h2v6h-2zM481 218h1v6h-1zM485 218h2v6h-2zM315 224h2v7h-2zM322 224h2v7h-2zM327 224h2v7h-2zM338 224h2v7h-2zM459 224h2v7h-2zM471 224h1v7h-1zM476 224h1v7h-1zM482 224h2v7h-2zM314 231h1v7h-1zM320 231h2v7h-2zM325 231h2v7h-2zM329 231h1v7h-1zM469 231h2v7h-2zM472 231h2v7h-2zM477 231h2v7h-2zM484 231h1v7h-1zM312 238h3v7h-3zM319 238h1v7h-1zM324 238h1v7h-1zM327 238h2v7h-2zM471 238h1v7h-1zM474 238h2v7h-2zM479 238h2v7h-2zM484 238h3v7h-3zM311 245h3v7h-3zM322 245h2v7h-2zM335 245h2v7h-2zM463 245h1v7h-1zM476 245h1v7h-1zM485 245h4v7h-4zM309 252h3v7h-3zM320 252h2v7h-2zM345 252h2v7h-2zM453 252h1v7h-1zM477 252h2v7h-2zM487 252h3v7h-3zM307 259h2v7h-2zM343 259h2v7h-2zM454 259h2v7h-2zM490 259h2v7h-2zM314 266h1v7h-1zM322 266h2v7h-2zM332 266h1v7h-1zM342 266h3v7h-3zM454 266h4v7h-4zM466 266h1v7h-1zM476 266h1v7h-1zM484 266h1v7h-1zM312 273h3v7h-3zM484 273h3v7h-3zM312 280h2v7h-2zM330 280h2v7h-2zM467 280h2v7h-2zM485 280h2v7h-2zM319 287h1v6h-1zM342 287h1v6h-1zM456 287h2v6h-2zM479 287h2v6h-2zM319 293h3v7h-3zM329 293h1v7h-1zM469 293h2v7h-2zM477 293h4v7h-4zM319 300h1v7h-1zM335 300h2v7h-2zM355 300h1v7h-1zM443 300h2v7h-2zM463 300h1v7h-1zM479 300h2v7h-2zM333 307h2v7h-2zM340 307h2v7h-2zM356 307h2v7h-2zM441 307h2v7h-2zM458 307h1v7h-1zM464 307h2v7h-2zM329 314h1v7h-1zM332 314h1v7h-1zM340 314h2v7h-2zM353 314h2v7h-2zM356 314h2v7h-2zM441 314h2v7h-2zM445 314h1v7h-1zM458 314h1v7h-1zM466 314h1v7h-1zM469 314h2v7h-2zM329 321h3v7h-3zM340 321h2v7h-2zM356 321h2v7h-2zM441 321h2v7h-2zM458 321h1v7h-1zM467 321h4v7h-4zM356 328h2v7h-2zM441 328h2v7h-2zM342 335h1v7h-1zM350 335h1v7h-1zM356 335h2v7h-2zM441 335h2v7h-2zM448 335h1v7h-1zM456 335h2v7h-2zM342 342h3v7h-3zM347 342h3v7h-3zM356 342h2v7h-2zM441 342h2v7h-2zM449 342h4v7h-4zM454 342h4v7h-4zM343 349h4v7h-4zM453 349h3v7h-3zM358 363h2v6h-2zM440 363h1v6h-1zM358 369h2v7h-2zM440 369h1v7h-1zM360 376h1v7h-1zM438 376h2v7h-2zM360 383h3v7h-3zM436 383h4v7h-4zM363 390h2v7h-2zM435 390h1v7h-1zM365 397h4v7h-4zM430 397h5v7h-5zM371 404h57v7h-57z"/>
<path fill="rgb(66,66,66)" d="M392 86h2v7h-2zM405 86h2v7h-2zM379 107h2v7h-2zM418 107h2v7h-2zM379 114h2v7h-2zM418 114h2v7h-2zM379 121h2v7h-2zM418 121h2v7h-2zM355 142h1v6h-1zM360 142h1v6h-1zM365 142h1v6h-1zM433 142h2v6h-2zM438 142h2v6h-2zM443 142h2v6h-2zM351 148h2v7h-2zM363 148h3v7h-3zM433 148h3v7h-3zM446 148h2v7h-2zM342 162h1v7h-1zM456 162h2v7h-2zM351 169h2v7h-2zM446 169h2v7h-2zM350 176h1v7h-1zM448 176h1v7h-1zM329 183h1v7h-1zM469 183h2v7h-2zM327 190h2v7h-2zM332 190h1v7h-1zM466 190h1v7h-1zM471 190h1v7h-1zM324 197h3v7h-3zM333 197h2v7h-2zM337 197h1v7h-1zM345 197h2v7h-2zM453 197h1v7h-1zM461 197h2v7h-2zM464 197h2v7h-2zM472 197h4v7h-4zM322 204h3v7h-3zM332 204h1v7h-1zM335 204h2v7h-2zM343 204h2v7h-2zM454 204h2v7h-2zM463 204h1v7h-1zM466 204h1v7h-1zM474 204h3v7h-3zM320 211h2v7h-2zM330 211h2v7h-2zM333 211h2v7h-2zM340 211h3v7h-3zM456 211h3v7h-3zM464 211h2v7h-2zM467 211h2v7h-2zM477 211h2v7h-2zM319 218h1v6h-1zM329 218h1v6h-1zM332 218h1v6h-1zM338 218h2v6h-2zM459 218h2v6h-2zM466 218h1v6h-1zM469 218h2v6h-2zM479 218h2v6h-2zM317 224h2v7h-2zM330 224h2v7h-2zM337 224h1v7h-1zM461 224h2v7h-2zM467 224h2v7h-2zM481 224h1v7h-1zM315 231h2v7h-2zM335 231h2v7h-2zM348 231h2v7h-2zM449 231h2v7h-2zM463 231h1v7h-1zM482 231h2v7h-2zM333 238h2v7h-2zM337 238h1v7h-1zM347 238h1v7h-1zM451 238h2v7h-2zM461 238h2v7h-2zM464 238h2v7h-2zM345 245h3v7h-3zM451 245h3v7h-3zM317 252h2v7h-2zM481 252h1v7h-1zM315 259h4v7h-4zM324 259h1v7h-1zM333 259h2v7h-2zM345 259h2v7h-2zM453 259h1v7h-1zM464 259h2v7h-2zM474 259h2v7h-2zM481 259h3v7h-3zM315 266h2v7h-2zM482 266h2v7h-2zM322 273h2v7h-2zM340 273h2v7h-2zM343 273h2v7h-2zM454 273h2v7h-2zM458 273h1v7h-1zM476 273h1v7h-1zM320 280h2v7h-2zM324 280h1v7h-1zM338 280h2v7h-2zM459 280h2v7h-2zM474 280h2v7h-2zM477 280h2v7h-2zM320 287h4v6h-4zM337 287h1v6h-1zM356 287h2v6h-2zM441 287h2v6h-2zM461 287h2v6h-2zM476 287h3v6h-3zM342 293h1v7h-1zM356 293h2v7h-2zM441 293h2v7h-2zM456 293h2v7h-2zM329 300h1v7h-1zM333 300h2v7h-2zM356 300h2v7h-2zM441 300h2v7h-2zM464 300h2v7h-2zM469 300h2v7h-2zM329 307h4v7h-4zM353 307h2v7h-2zM445 307h1v7h-1zM466 307h5v7h-5zM330 314h2v7h-2zM467 314h2v7h-2zM342 321h1v7h-1zM351 321h2v7h-2zM446 321h2v7h-2zM456 321h2v7h-2zM342 328h1v7h-1zM350 328h1v7h-1zM448 328h1v7h-1zM456 328h2v7h-2zM343 335h2v7h-2zM347 335h3v7h-3zM449 335h4v7h-4zM454 335h2v7h-2zM345 342h2v7h-2zM453 342h1v7h-1zM358 356h2v7h-2zM440 356h1v7h-1zM360 369h1v7h-1zM438 369h2v7h-2zM363 383h2v7h-2zM435 383h1v7h-1zM365 390h3v7h-3zM432 390h3v7h-3zM369 397h61v7h-61z"/>
<path fill="rgb(69,69,69)" d="M394 86h11v7h-11zM386 100h1v7h-1zM412 100h2v7h-2zM376 114h2v7h-2zM422 114h1v7h-1zM378 121h1v7h-1zM420 121h2v7h-2zM366 128h2v7h-2zM371 128h2v7h-2zM378 128h1v7h-1zM420 128h2v7h-2zM427 128h1v7h-1zM432 128h1v7h-1zM363 135h2v7h-2zM435 135h1v7h-1zM353 148h2v7h-2zM358 148h2v7h-2zM440 148h1v7h-1zM445 148h1v7h-1zM350 155h1v7h-1zM361 155h4v7h-4zM435 155h3v7h-3zM448 155h1v7h-1zM361 162h2v7h-2zM436 162h2v7h-2zM340 169h2v7h-2zM345 169h2v7h-2zM360 169h1v7h-1zM438 169h2v7h-2zM453 169h1v7h-1zM458 169h1v7h-1zM337 176h3v7h-3zM358 176h2v7h-2zM440 176h1v7h-1zM459 176h4v7h-4zM335 183h3v7h-3zM348 183h2v7h-2zM356 183h2v7h-2zM441 183h2v7h-2zM449 183h2v7h-2zM461 183h3v7h-3zM335 190h2v7h-2zM347 190h1v7h-1zM355 190h1v7h-1zM443 190h2v7h-2zM451 190h2v7h-2zM463 190h1v7h-1zM330 197h2v7h-2zM467 197h2v7h-2zM329 204h1v7h-1zM353 204h2v7h-2zM445 204h1v7h-1zM469 204h2v7h-2zM327 211h2v7h-2zM351 211h2v7h-2zM446 211h2v7h-2zM471 211h1v7h-1zM350 218h1v6h-1zM448 218h1v6h-1zM350 224h1v7h-1zM448 224h1v7h-1zM322 231h2v7h-2zM338 231h2v7h-2zM459 231h2v7h-2zM476 231h1v7h-1zM320 238h4v7h-4zM476 238h3v7h-3zM319 245h3v7h-3zM332 245h1v7h-1zM466 245h1v7h-1zM477 245h4v7h-4zM319 252h1v7h-1zM325 252h2v7h-2zM330 252h2v7h-2zM343 252h2v7h-2zM454 252h2v7h-2zM467 252h2v7h-2zM472 252h2v7h-2zM479 252h2v7h-2zM329 259h1v7h-1zM469 259h2v7h-2zM324 266h1v7h-1zM327 266h2v7h-2zM471 266h1v7h-1zM474 266h2v7h-2zM324 273h3v7h-3zM332 273h1v7h-1zM466 273h1v7h-1zM472 273h4v7h-4zM322 280h2v7h-2zM343 280h2v7h-2zM358 280h2v7h-2zM440 280h1v7h-1zM454 280h2v7h-2zM476 280h1v7h-1zM330 287h2v6h-2zM467 287h2v6h-2zM330 293h2v7h-2zM335 293h2v7h-2zM355 293h1v7h-1zM443 293h2v7h-2zM463 293h1v7h-1zM467 293h2v7h-2zM330 300h3v7h-3zM342 300h1v7h-1zM353 300h2v7h-2zM445 300h1v7h-1zM456 300h2v7h-2zM466 300h3v7h-3zM342 307h1v7h-1zM456 307h2v7h-2zM342 314h1v7h-1zM351 314h2v7h-2zM446 314h2v7h-2zM456 314h2v7h-2zM350 321h1v7h-1zM448 321h1v7h-1zM343 328h2v7h-2zM348 328h2v7h-2zM449 328h2v7h-2zM454 328h2v7h-2zM345 335h2v7h-2zM453 335h1v7h-1zM358 349h2v7h-2zM440 349h1v7h-1zM360 363h1v6h-1zM438 363h2v6h-2zM361 376h2v7h-2zM436 376h2v7h-2zM365 383h1v7h-1zM433 383h2v7h-2zM368 390h8v7h-8zM423 390h9v7h-9z"/>
<path fill="rgb(72,72,72)" d="M389 93h2v7h-2zM409 93h1v7h-1zM378 114h1v7h-1zM420 114h2v7h-2zM365 135h1v7h-1zM376 135h2v7h-2zM422 135h1v7h-1zM433 135h2v7h-2zM351 155h2v7h-2zM446 155h2v7h-2zM350 162h1v7h-1zM360 162h1v7h-1zM438 162h2v7h-2zM448 162h1v7h-1zM348 169h2v7h-2zM449 169h2v7h-2zM343 176h2v7h-2zM454 176h2v7h-2zM333 190h2v7h-2zM464 190h2v7h-2zM332 197h1v7h-1zM353 197h3v7h-3zM443 197h3v7h-3zM466 197h1v7h-1zM330 204h2v7h-2zM467 204h2v7h-2zM329 211h1v7h-1zM469 211h2v7h-2zM325 218h4v6h-4zM471 218h3v6h-3zM324 224h3v7h-3zM348 224h2v7h-2zM449 224h2v7h-2zM472 224h4v7h-4zM324 231h1v7h-1zM347 231h1v7h-1zM451 231h2v7h-2zM474 231h2v7h-2zM329 238h1v7h-1zM348 238h2v7h-2zM449 238h2v7h-2zM469 238h2v7h-2zM327 245h2v7h-2zM471 245h1v7h-1zM335 252h2v7h-2zM347 252h1v7h-1zM451 252h2v7h-2zM463 252h1v7h-1zM325 259h2v7h-2zM342 259h1v7h-1zM456 259h2v7h-2zM472 259h2v7h-2zM325 266h2v7h-2zM333 266h2v7h-2zM340 266h2v7h-2zM345 266h2v7h-2zM453 266h1v7h-1zM458 266h1v7h-1zM464 266h2v7h-2zM472 266h2v7h-2zM358 273h2v7h-2zM440 273h1v7h-1zM332 280h1v7h-1zM356 280h2v7h-2zM441 280h2v7h-2zM466 280h1v7h-1zM332 287h1v6h-1zM335 287h2v6h-2zM358 287h2v6h-2zM440 287h1v6h-1zM463 287h1v6h-1zM466 287h1v6h-1zM332 293h3v7h-3zM464 293h3v7h-3zM351 307h2v7h-2zM446 307h2v7h-2zM343 321h2v7h-2zM348 321h2v7h-2zM449 321h2v7h-2zM454 321h2v7h-2zM345 328h3v7h-3zM451 328h3v7h-3zM358 335h2v7h-2zM440 335h1v7h-1zM358 342h2v7h-2zM440 342h1v7h-1zM360 356h1v7h-1zM438 356h2v7h-2zM361 369h2v7h-2zM436 369h2v7h-2zM363 376h3v7h-3zM433 376h3v7h-3zM366 383h5v7h-5zM428 383h5v7h-5zM376 390h47v7h-47z"/>
<path fill="rgb(75,75,75)" d="M384 107h2v7h-2zM414 107h1v7h-1zM374 121h2v7h-2zM423 121h2v7h-2zM369 135h2v7h-2zM428 135h2v7h-2zM361 142h4v6h-4zM435 142h3v6h-3zM356 155h2v7h-2zM441 155h2v7h-2zM348 162h2v7h-2zM449 162h2v7h-2zM358 169h2v7h-2zM440 169h1v7h-1zM347 176h1v7h-1zM451 176h2v7h-2zM342 183h1v7h-1zM345 183h2v7h-2zM453 183h1v7h-1zM456 183h2v7h-2zM340 190h2v7h-2zM343 190h2v7h-2zM454 190h2v7h-2zM458 190h1v7h-1zM342 197h1v7h-1zM456 197h2v7h-2zM340 204h2v7h-2zM351 204h2v7h-2zM446 204h2v7h-2zM458 204h1v7h-1zM338 211h2v7h-2zM459 211h2v7h-2zM351 218h2v6h-2zM446 218h2v6h-2zM340 224h2v7h-2zM458 224h1v7h-1zM330 231h2v7h-2zM467 231h2v7h-2zM345 238h2v7h-2zM453 238h1v7h-1zM330 245h2v7h-2zM337 245h1v7h-1zM461 245h2v7h-2zM467 245h2v7h-2zM327 252h3v7h-3zM469 252h3v7h-3zM327 259h2v7h-2zM360 259h1v7h-1zM438 259h2v7h-2zM471 259h1v7h-1zM358 266h3v7h-3zM438 266h3v7h-3zM338 273h2v7h-2zM459 273h2v7h-2zM337 280h1v7h-1zM461 280h2v7h-2zM333 287h2v6h-2zM343 287h2v6h-2zM355 287h1v6h-1zM443 287h2v6h-2zM454 287h2v6h-2zM464 287h2v6h-2zM358 293h2v7h-2zM440 293h1v7h-1zM343 307h2v7h-2zM454 307h2v7h-2zM343 314h2v7h-2zM350 314h1v7h-1zM358 314h2v7h-2zM440 314h1v7h-1zM448 314h1v7h-1zM454 314h2v7h-2zM345 321h3v7h-3zM358 321h2v7h-2zM440 321h1v7h-1zM451 321h3v7h-3zM358 328h2v7h-2zM440 328h1v7h-1zM360 349h1v7h-1zM438 349h2v7h-2zM361 363h2v6h-2zM436 363h2v6h-2zM363 369h2v7h-2zM435 369h1v7h-1zM366 376h2v7h-2zM432 376h1v7h-1zM371 383h13v7h-13zM415 383h13v7h-13z"/>
<path fill="rgb(78,78,78)" d="M376 121h2v7h-2zM422 121h1v7h-1zM376 128h2v7h-2zM422 128h1v7h-1zM374 142h2v6h-2zM423 142h2v6h-2zM361 148h2v7h-2zM374 148h2v7h-2zM423 148h2v7h-2zM436 148h2v7h-2zM355 162h1v7h-1zM443 162h2v7h-2zM347 169h1v7h-1zM451 169h2v7h-2zM345 176h2v7h-2zM356 176h2v7h-2zM441 176h2v7h-2zM453 176h1v7h-1zM356 190h2v7h-2zM441 190h2v7h-2zM338 197h2v7h-2zM459 197h2v7h-2zM337 204h1v7h-1zM461 204h2v7h-2zM335 211h2v7h-2zM350 211h1v7h-1zM448 211h1v7h-1zM463 211h1v7h-1zM333 218h2v6h-2zM337 218h1v6h-1zM342 218h1v6h-1zM456 218h2v6h-2zM461 218h2v6h-2zM464 218h2v6h-2zM332 224h1v7h-1zM335 224h2v7h-2zM463 224h1v7h-1zM466 224h1v7h-1zM333 231h2v7h-2zM350 231h1v7h-1zM448 231h1v7h-1zM464 231h2v7h-2zM330 238h3v7h-3zM466 238h3v7h-3zM329 245h1v7h-1zM343 245h2v7h-2zM454 245h2v7h-2zM469 245h2v7h-2zM335 259h2v7h-2zM463 259h1v7h-1zM333 273h2v7h-2zM345 273h2v7h-2zM360 273h1v7h-1zM438 273h2v7h-2zM453 273h1v7h-1zM464 273h2v7h-2zM333 280h4v7h-4zM463 280h3v7h-3zM343 293h2v7h-2zM353 293h2v7h-2zM445 293h1v7h-1zM454 293h2v7h-2zM343 300h2v7h-2zM351 300h2v7h-2zM358 300h2v7h-2zM440 300h1v7h-1zM446 300h2v7h-2zM454 300h2v7h-2zM350 307h1v7h-1zM358 307h2v7h-2zM440 307h1v7h-1zM448 307h1v7h-1zM345 314h5v7h-5zM449 314h5v7h-5zM361 356h2v7h-2zM436 356h2v7h-2zM365 369h1v7h-1zM433 369h2v7h-2zM368 376h3v7h-3zM428 376h4v7h-4zM384 383h31v7h-31z"/>
<path fill="rgb(81,81,81)" d="M391 93h1v7h-1zM407 93h2v7h-2zM382 114h2v7h-2zM415 114h2v7h-2zM368 142h1v6h-1zM376 142h2v6h-2zM422 142h1v6h-1zM430 142h2v6h-2zM360 148h1v7h-1zM438 148h2v7h-2zM360 155h1v7h-1zM373 155h1v7h-1zM425 155h2v7h-2zM438 155h2v7h-2zM353 169h2v7h-2zM445 169h1v7h-1zM343 183h2v7h-2zM355 183h1v7h-1zM358 183h2v7h-2zM440 183h1v7h-1zM443 183h2v7h-2zM454 183h2v7h-2zM342 190h1v7h-1zM456 190h2v7h-2zM340 197h2v7h-2zM458 197h1v7h-1zM343 211h2v7h-2zM353 211h2v7h-2zM445 211h1v7h-1zM454 211h2v7h-2zM335 218h2v6h-2zM348 218h2v6h-2zM449 218h2v6h-2zM463 218h1v6h-1zM333 224h2v7h-2zM464 224h2v7h-2zM332 231h1v7h-1zM466 231h1v7h-1zM338 238h2v7h-2zM459 238h2v7h-2zM348 245h2v7h-2zM361 245h2v7h-2zM436 245h2v7h-2zM449 245h2v7h-2zM342 252h1v7h-1zM360 252h3v7h-3zM436 252h4v7h-4zM456 252h2v7h-2zM340 259h2v7h-2zM347 259h1v7h-1zM451 259h2v7h-2zM458 259h1v7h-1zM335 266h2v7h-2zM338 266h2v7h-2zM459 266h2v7h-2zM463 266h1v7h-1zM335 273h3v7h-3zM356 273h2v7h-2zM441 273h2v7h-2zM461 273h3v7h-3zM345 307h2v7h-2zM453 307h1v7h-1zM360 342h1v7h-1zM438 342h2v7h-2zM363 363h2v6h-2zM435 363h1v6h-1zM366 369h2v7h-2zM432 369h1v7h-1zM371 376h10v7h-10zM418 376h10v7h-10z"/>
<path fill="rgb(84,84,84)" d="M381 121h1v7h-1zM417 121h1v7h-1zM373 128h1v7h-1zM379 128h2v7h-2zM418 128h2v7h-2zM425 128h2v7h-2zM374 135h2v7h-2zM378 135h1v7h-1zM420 135h2v7h-2zM423 135h2v7h-2zM366 148h2v7h-2zM373 148h1v7h-1zM425 148h2v7h-2zM432 148h1v7h-1zM358 155h2v7h-2zM440 155h1v7h-1zM358 162h2v7h-2zM371 162h2v7h-2zM427 162h1v7h-1zM440 162h1v7h-1zM371 169h2v7h-2zM427 169h1v7h-1zM351 176h2v7h-2zM360 176h1v7h-1zM438 176h2v7h-2zM446 176h2v7h-2zM350 183h1v7h-1zM448 183h1v7h-1zM348 190h2v7h-2zM353 190h2v7h-2zM445 190h1v7h-1zM449 190h2v7h-2zM347 197h1v7h-1zM451 197h2v7h-2zM338 204h2v7h-2zM345 204h2v7h-2zM453 204h1v7h-1zM459 204h2v7h-2zM337 211h1v7h-1zM461 211h2v7h-2zM347 224h1v7h-1zM451 224h2v7h-2zM340 231h2v7h-2zM363 231h2v7h-2zM435 231h1v7h-1zM458 231h1v7h-1zM361 238h2v7h-2zM436 238h2v7h-2zM337 252h1v7h-1zM461 252h2v7h-2zM358 259h2v7h-2zM440 259h1v7h-1zM337 266h1v7h-1zM461 266h2v7h-2zM345 280h2v7h-2zM355 280h1v7h-1zM360 280h1v7h-1zM438 280h2v7h-2zM443 280h2v7h-2zM453 280h1v7h-1zM345 287h2v6h-2zM353 287h2v6h-2zM445 287h1v6h-1zM453 287h1v6h-1zM345 293h2v7h-2zM453 293h1v7h-1zM345 300h2v7h-2zM350 300h1v7h-1zM448 300h1v7h-1zM453 300h1v7h-1zM347 307h3v7h-3zM449 307h4v7h-4zM360 335h1v7h-1zM438 335h2v7h-2zM361 349h2v7h-2zM436 349h2v7h-2zM363 356h2v7h-2zM435 356h1v7h-1zM365 363h1v6h-1zM433 363h2v6h-2zM368 369h3v7h-3zM428 369h4v7h-4zM381 376h37v7h-37z"/>
<path fill="rgb(87,87,87)" d="M392 93h2v7h-2zM405 93h2v7h-2zM387 100h2v7h-2zM410 100h2v7h-2zM374 128h2v7h-2zM423 128h2v7h-2zM365 155h1v7h-1zM433 155h2v7h-2zM356 162h2v7h-2zM363 162h2v7h-2zM435 162h1v7h-1zM441 162h2v7h-2zM356 169h2v7h-2zM361 169h2v7h-2zM436 169h2v7h-2zM441 169h2v7h-2zM369 176h2v7h-2zM428 176h2v7h-2zM368 190h1v7h-1zM430 190h2v7h-2zM351 197h2v7h-2zM446 197h2v7h-2zM355 204h1v7h-1zM366 204h2v7h-2zM432 204h1v7h-1zM443 204h2v7h-2zM365 218h1v6h-1zM433 218h2v6h-2zM351 224h2v7h-2zM363 224h2v7h-2zM435 224h1v7h-1zM446 224h2v7h-2zM345 231h2v7h-2zM453 231h1v7h-1zM363 238h2v7h-2zM435 238h1v7h-1zM338 245h2v7h-2zM360 245h1v7h-1zM438 245h2v7h-2zM459 245h2v7h-2zM340 252h2v7h-2zM458 252h1v7h-1zM337 259h3v7h-3zM361 259h2v7h-2zM436 259h2v7h-2zM459 259h4v7h-4zM347 266h1v7h-1zM451 266h2v7h-2zM360 287h1v6h-1zM438 287h2v6h-2zM351 293h2v7h-2zM446 293h2v7h-2zM347 300h3v7h-3zM449 300h4v7h-4zM360 328h1v7h-1zM438 328h2v7h-2zM361 342h2v7h-2zM436 342h2v7h-2zM366 363h2v6h-2zM432 363h1v6h-1zM371 369h5v7h-5zM423 369h5v7h-5z"/>
<path fill="rgb(90,90,90)" d="M394 93h11v7h-11zM371 135h2v7h-2zM427 135h1v7h-1zM373 162h1v7h-1zM425 162h2v7h-2zM355 169h1v7h-1zM443 169h2v7h-2zM355 176h1v7h-1zM443 176h2v7h-2zM369 183h2v7h-2zM428 183h2v7h-2zM366 197h2v7h-2zM432 197h1v7h-1zM350 204h1v7h-1zM448 204h1v7h-1zM365 211h1v7h-1zM433 211h2v7h-2zM342 224h1v7h-1zM456 224h2v7h-2zM343 238h2v7h-2zM350 238h1v7h-1zM448 238h1v7h-1zM454 238h2v7h-2zM342 245h1v7h-1zM456 245h2v7h-2zM338 252h2v7h-2zM348 252h2v7h-2zM449 252h2v7h-2zM459 252h2v7h-2zM356 266h2v7h-2zM441 266h2v7h-2zM347 293h1v7h-1zM350 293h1v7h-1zM448 293h1v7h-1zM451 293h2v7h-2zM360 314h1v7h-1zM438 314h2v7h-2zM360 321h1v7h-1zM438 321h2v7h-2zM363 349h2v7h-2zM435 349h1v7h-1zM365 356h1v7h-1zM433 356h2v7h-2zM368 363h1v6h-1zM430 363h2v6h-2zM376 369h47v7h-47z"/>
<path fill="rgb(93,93,93)" d="M373 135h1v7h-1zM425 135h2v7h-2zM373 142h1v6h-1zM425 142h2v6h-2zM371 155h2v7h-2zM427 155h1v7h-1zM369 169h2v7h-2zM428 169h2v7h-2zM353 176h2v7h-2zM445 176h1v7h-1zM353 183h2v7h-2zM368 183h1v7h-1zM430 183h2v7h-2zM445 183h1v7h-1zM368 197h1v7h-1zM430 197h2v7h-2zM348 211h2v7h-2zM366 211h2v7h-2zM432 211h1v7h-1zM449 211h2v7h-2zM343 218h2v6h-2zM454 218h2v6h-2zM365 224h1v7h-1zM433 224h2v7h-2zM361 231h2v7h-2zM436 231h2v7h-2zM340 238h2v7h-2zM458 238h1v7h-1zM340 245h2v7h-2zM458 245h1v7h-1zM358 252h2v7h-2zM440 252h1v7h-1zM347 273h1v7h-1zM355 273h1v7h-1zM443 273h2v7h-2zM451 273h2v7h-2zM347 280h1v7h-1zM353 280h2v7h-2zM445 280h1v7h-1zM451 280h2v7h-2zM347 287h1v6h-1zM351 287h2v6h-2zM446 287h2v6h-2zM451 287h2v6h-2zM348 293h2v7h-2zM360 293h1v7h-1zM438 293h2v7h-2zM449 293h2v7h-2zM360 307h1v7h-1zM438 307h2v7h-2zM361 335h2v7h-2zM436 335h2v7h-2zM366 356h2v7h-2zM432 356h1v7h-1zM369 363h4v6h-4zM427 363h3v6h-3z"/>
<path fill="rgb(96,96,96)" d="M369 142h2v6h-2zM428 142h2v6h-2zM374 155h2v7h-2zM423 155h2v7h-2zM351 183h2v7h-2zM446 183h2v7h-2zM350 190h3v7h-3zM446 190h3v7h-3zM348 197h2v7h-2zM356 197h2v7h-2zM441 197h2v7h-2zM449 197h2v7h-2zM347 204h1v7h-1zM451 204h2v7h-2zM345 211h2v7h-2zM453 211h1v7h-1zM347 218h1v6h-1zM353 218h2v6h-2zM363 218h2v6h-2zM435 218h1v6h-1zM445 218h1v6h-1zM451 218h2v6h-2zM343 224h4v7h-4zM453 224h3v7h-3zM342 231h3v7h-3zM454 231h4v7h-4zM342 238h1v7h-1zM456 238h2v7h-2zM363 245h2v7h-2zM435 245h1v7h-1zM348 259h2v7h-2zM449 259h2v7h-2zM361 266h2v7h-2zM436 266h2v7h-2zM348 287h3v6h-3zM448 287h3v6h-3zM360 300h1v7h-1zM438 300h2v7h-2zM363 342h2v7h-2zM435 342h1v7h-1zM365 349h1v7h-1zM433 349h2v7h-2zM368 356h1v7h-1zM430 356h2v7h-2zM373 363h6v6h-6zM420 363h7v6h-7z"/>
<path fill="rgb(99,99,99)" d="M389 100h2v7h-2zM409 100h1v7h-1zM386 107h1v7h-1zM412 107h2v7h-2zM371 176h2v7h-2zM427 176h1v7h-1zM358 190h2v7h-2zM440 190h1v7h-1zM350 197h1v7h-1zM448 197h1v7h-1zM348 204h2v7h-2zM365 204h1v7h-1zM433 204h2v7h-2zM449 204h2v7h-2zM347 211h1v7h-1zM451 211h2v7h-2zM345 218h2v6h-2zM453 218h1v6h-1zM360 238h1v7h-1zM438 238h2v7h-2zM356 259h2v7h-2zM441 259h2v7h-2zM348 280h2v7h-2zM351 280h2v7h-2zM446 280h2v7h-2zM449 280h2v7h-2zM361 328h2v7h-2zM436 328h2v7h-2zM369 356h2v7h-2zM428 356h2v7h-2zM379 363h41v6h-41z"/>
<path fill="rgb(102,102,102)" d="M371 142h2v6h-2zM427 142h1v6h-1zM368 148h1v7h-1zM371 148h2v7h-2zM427 148h1v7h-1zM430 148h2v7h-2zM369 162h2v7h-2zM428 162h2v7h-2zM368 176h1v7h-1zM430 176h2v7h-2zM366 190h2v7h-2zM432 190h1v7h-1zM351 231h2v7h-2zM365 231h1v7h-1zM433 231h2v7h-2zM446 231h2v7h-2zM350 245h1v7h-1zM448 245h1v7h-1zM348 266h2v7h-2zM355 266h1v7h-1zM443 266h2v7h-2zM449 266h2v7h-2zM348 273h2v7h-2zM353 273h2v7h-2zM361 273h2v7h-2zM436 273h2v7h-2zM445 273h1v7h-1zM449 273h2v7h-2zM350 280h1v7h-1zM448 280h1v7h-1zM361 321h2v7h-2zM436 321h2v7h-2zM363 335h2v7h-2zM435 335h1v7h-1zM365 342h1v7h-1zM433 342h2v7h-2zM366 349h2v7h-2zM432 349h1v7h-1zM371 356h2v7h-2zM427 356h1v7h-1z"/>
<path fill="rgb(105,105,105)" d="M366 155h2v7h-2zM432 155h1v7h-1zM360 183h1v7h-1zM438 183h2v7h-2zM369 190h2v7h-2zM428 190h2v7h-2zM355 211h1v7h-1zM443 211h2v7h-2zM361 224h2v7h-2zM436 224h2v7h-2zM358 245h2v7h-2zM440 245h1v7h-1zM363 252h2v7h-2zM435 252h1v7h-1zM368 349h1v7h-1zM430 349h2v7h-2zM373 356h5v7h-5zM422 356h5v7h-5z"/>
<path fill="rgb(108,108,108)" d="M391 100h1v7h-1zM407 100h2v7h-2zM369 148h2v7h-2zM376 148h2v7h-2zM422 148h1v7h-1zM428 148h2v7h-2zM365 162h1v7h-1zM433 162h2v7h-2zM363 169h2v7h-2zM435 169h1v7h-1zM361 176h2v7h-2zM436 176h2v7h-2zM363 211h2v7h-2zM435 211h1v7h-1zM366 218h2v6h-2zM432 218h1v6h-1zM350 252h1v7h-1zM448 252h1v7h-1zM350 273h3v7h-3zM446 273h3v7h-3zM361 280h2v7h-2zM436 280h2v7h-2zM361 314h2v7h-2zM436 314h2v7h-2zM363 328h2v7h-2zM435 328h1v7h-1zM366 342h2v7h-2zM432 342h1v7h-1zM369 349h2v7h-2zM428 349h2v7h-2zM378 356h44v7h-44z"/>
<path fill="rgb(111,111,111)" d="M392 100h15v7h-15zM384 114h2v7h-2zM414 114h1v7h-1zM369 155h2v7h-2zM428 155h2v7h-2zM373 169h1v7h-1zM425 169h2v7h-2zM365 197h1v7h-1zM433 197h2v7h-2zM368 204h1v7h-1zM430 204h2v7h-2zM353 224h2v7h-2zM445 224h1v7h-1zM360 231h1v7h-1zM438 231h2v7h-2zM351 238h2v7h-2zM446 238h2v7h-2zM356 252h2v7h-2zM441 252h2v7h-2zM350 259h1v7h-1zM355 259h1v7h-1zM443 259h2v7h-2zM448 259h1v7h-1zM350 266h1v7h-1zM353 266h2v7h-2zM445 266h1v7h-1zM448 266h1v7h-1zM361 287h2v6h-2zM436 287h2v6h-2zM361 307h2v7h-2zM436 307h2v7h-2zM365 335h1v7h-1zM433 335h2v7h-2zM371 349h2v7h-2zM427 349h1v7h-1z"/>
<path fill="rgb(114,114,114)" d="M378 142h1v6h-1zM420 142h2v6h-2zM368 155h1v7h-1zM430 155h2v7h-2zM368 169h1v7h-1zM430 169h2v7h-2zM366 183h2v7h-2zM432 183h1v7h-1zM356 204h2v7h-2zM441 204h2v7h-2zM351 266h2v7h-2zM446 266h2v7h-2zM361 293h2v7h-2zM436 293h2v7h-2zM361 300h2v7h-2zM436 300h2v7h-2zM363 321h2v7h-2zM435 321h1v7h-1zM368 342h1v7h-1zM430 342h2v7h-2zM373 349h3v7h-3zM423 349h4v7h-4z"/>
<path fill="rgb(117,117,117)" d="M387 107h2v7h-2zM410 107h2v7h-2zM382 121h2v7h-2zM415 121h2v7h-2zM361 218h2v6h-2zM436 218h2v6h-2zM358 238h2v7h-2zM365 238h1v7h-1zM433 238h2v7h-2zM440 238h1v7h-1zM351 245h2v7h-2zM446 245h2v7h-2zM351 252h2v7h-2zM446 252h2v7h-2zM351 259h4v7h-4zM363 259h2v7h-2zM435 259h1v7h-1zM445 259h3v7h-3zM366 335h2v7h-2zM432 335h1v7h-1zM369 342h2v7h-2zM428 342h2v7h-2zM376 349h8v7h-8zM415 349h8v7h-8z"/>
<path fill="rgb(120,120,120)" d="M379 135h2v7h-2zM418 135h2v7h-2zM366 162h3v7h-3zM430 162h3v7h-3zM358 197h2v7h-2zM440 197h1v7h-1zM363 204h2v7h-2zM435 204h1v7h-1zM355 218h1v6h-1zM443 218h2v6h-2zM353 231h2v7h-2zM445 231h1v7h-1zM356 245h2v7h-2zM441 245h2v7h-2zM355 252h1v7h-1zM443 252h2v7h-2zM365 328h1v7h-1zM433 328h2v7h-2zM384 349h31v7h-31z"/>
<path fill="rgb(123,123,123)" d="M381 128h1v7h-1zM417 128h1v7h-1zM366 176h2v7h-2zM432 176h1v7h-1zM371 183h2v7h-2zM427 183h1v7h-1zM360 190h1v7h-1zM365 190h1v7h-1zM433 190h2v7h-2zM438 190h2v7h-2zM360 224h1v7h-1zM438 224h2v7h-2zM353 252h2v7h-2zM445 252h1v7h-1zM363 314h2v7h-2zM435 314h1v7h-1zM368 335h1v7h-1zM430 335h2v7h-2zM371 342h3v7h-3zM425 342h3v7h-3z"/>
<path fill="rgb(126,126,126)" d="M374 162h2v7h-2zM423 162h2v7h-2zM365 169h3v7h-3zM432 169h3v7h-3zM363 176h2v7h-2zM435 176h1v7h-1zM361 183h2v7h-2zM436 183h2v7h-2zM356 211h2v7h-2zM441 211h2v7h-2zM366 224h2v7h-2zM432 224h1v7h-1zM358 231h2v7h-2zM440 231h1v7h-1zM353 238h2v7h-2zM445 238h1v7h-1zM353 245h3v7h-3zM443 245h3v7h-3zM363 266h2v7h-2zM435 266h1v7h-1zM365 321h1v7h-1zM433 321h2v7h-2zM366 328h2v7h-2zM432 328h1v7h-1zM374 342h2v7h-2zM423 342h2v7h-2z"/>
<path fill="rgb(129,129,129)" d="M389 107h2v7h-2zM409 107h1v7h-1zM369 197h2v7h-2zM428 197h2v7h-2zM361 211h2v7h-2zM368 211h1v7h-1zM430 211h2v7h-2zM436 211h2v7h-2zM355 224h1v7h-1zM443 224h2v7h-2zM356 238h2v7h-2zM441 238h2v7h-2zM363 307h2v7h-2zM435 307h1v7h-1zM369 335h2v7h-2zM428 335h2v7h-2zM376 342h10v7h-10zM414 342h9v7h-9z"/>
<path fill="rgb(132,132,132)" d="M365 176h1v7h-1zM433 176h2v7h-2zM365 183h1v7h-1zM433 183h2v7h-2zM363 197h2v7h-2zM435 197h1v7h-1zM358 204h2v7h-2zM440 204h1v7h-1zM360 218h1v6h-1zM438 218h2v6h-2zM355 231h1v7h-1zM443 231h2v7h-2zM355 238h1v7h-1zM443 238h2v7h-2zM365 245h1v7h-1zM433 245h2v7h-2zM363 273h2v7h-2zM435 273h1v7h-1zM371 335h2v7h-2zM427 335h1v7h-1zM386 342h28v7h-28z"/>
<path fill="rgb(135,135,135)" d="M391 107h1v7h-1zM407 107h2v7h-2zM386 114h1v7h-1zM412 114h2v7h-2zM363 183h2v7h-2zM435 183h1v7h-1zM360 197h1v7h-1zM438 197h2v7h-2zM356 218h2v6h-2zM441 218h2v6h-2zM358 224h2v7h-2zM440 224h1v7h-1zM356 231h2v7h-2zM441 231h2v7h-2zM363 280h2v7h-2zM435 280h1v7h-1zM363 293h2v7h-2zM435 293h1v7h-1zM363 300h2v7h-2zM435 300h1v7h-1zM365 314h1v7h-1zM433 314h2v7h-2zM368 328h1v7h-1zM430 328h2v7h-2zM373 335h1v7h-1zM425 335h2v7h-2z"/>
<path fill="rgb(138,138,138)" d="M392 107h15v7h-15zM361 190h4v7h-4zM435 190h3v7h-3zM361 204h2v7h-2zM436 204h2v7h-2zM358 211h3v7h-3zM438 211h3v7h-3zM358 218h2v6h-2zM440 218h1v6h-1zM356 224h2v7h-2zM441 224h2v7h-2zM363 287h2v6h-2zM435 287h1v6h-1zM366 321h2v7h-2zM432 321h1v7h-1zM374 335h2v7h-2zM423 335h2v7h-2z"/>
<path fill="rgb(141,141,141)" d="M376 155h2v7h-2zM422 155h1v7h-1zM373 176h1v7h-1zM425 176h2v7h-2zM361 197h2v7h-2zM436 197h2v7h-2zM360 204h1v7h-1zM438 204h2v7h-2zM365 252h1v7h-1zM433 252h2v7h-2zM369 328h2v7h-2zM428 328h2v7h-2zM376 335h5v7h-5zM418 335h5v7h-5z"/>
<path fill="rgb(144,144,144)" d="M366 231h2v7h-2zM432 231h1v7h-1zM365 307h1v7h-1zM433 307h2v7h-2zM371 328h2v7h-2zM427 328h1v7h-1zM381 335h37v7h-37z"/>
<path fill="rgb(147,147,147)" d="M384 121h2v7h-2zM414 121h1v7h-1zM366 314h2v7h-2zM432 314h1v7h-1zM368 321h1v7h-1zM430 321h2v7h-2z"/>
<path fill="rgb(150,150,150)" d="M387 114h2v7h-2zM410 114h2v7h-2zM373 328h1v7h-1zM425 328h2v7h-2z"/>
<path fill="rgb(153,153,153)" d="M378 148h1v7h-1zM420 148h2v7h-2zM371 190h2v7h-2zM427 190h1v7h-1zM368 218h1v6h-1zM430 218h2v6h-2zM365 259h1v7h-1zM433 259h2v7h-2zM365 300h1v7h-1zM433 300h2v7h-2zM369 321h2v7h-2zM428 321h2v7h-2zM374 328h4v7h-4zM422 328h3v7h-3z"/>
<path fill="rgb(156,156,156)" d="M369 204h2v7h-2zM428 204h2v7h-2zM365 293h1v7h-1zM433 293h2v7h-2zM368 314h1v7h-1zM430 314h2v7h-2zM378 328h3v7h-3zM418 328h4v7h-4z"/>
<path fill="rgb(159,159,159)" d="M389 114h2v7h-2zM409 114h1v7h-1zM382 128h2v7h-2zM415 128h2v7h-2zM379 142h2v6h-2zM418 142h2v6h-2zM374 169h2v7h-2zM423 169h2v7h-2zM366 238h2v7h-2zM432 238h1v7h-1zM365 266h1v7h-1zM433 266h2v7h-2zM366 307h2v7h-2zM432 307h1v7h-1zM371 321h2v7h-2zM427 321h1v7h-1zM381 328h37v7h-37z"/>
<path fill="rgb(162,162,162)" d="M381 135h1v7h-1zM417 135h1v7h-1zM365 273h1v7h-1zM433 273h2v7h-2zM365 280h1v7h-1zM433 280h2v7h-2zM365 287h1v6h-1zM433 287h2v6h-2zM373 321h1v7h-1zM425 321h2v7h-2z"/>
<path fill="rgb(165,165,165)" d="M391 114h1v7h-1zM407 114h2v7h-2zM369 314h2v7h-2zM428 314h2v7h-2zM374 321h2v7h-2zM423 321h2v7h-2z"/>
<path fill="rgb(168,168,168)" d="M392 114h15v7h-15zM366 300h2v7h-2zM432 300h1v7h-1zM368 307h1v7h-1zM430 307h2v7h-2zM376 321h2v7h-2zM422 321h1v7h-1z"/>
<path fill="rgb(171,171,171)" d="M386 121h1v7h-1zM412 121h2v7h-2zM368 224h1v7h-1zM430 224h2v7h-2zM366 245h2v7h-2zM432 245h1v7h-1zM371 314h2v7h-2zM427 314h1v7h-1zM378 321h3v7h-3zM418 321h4v7h-4z"/>
<path fill="rgb(174,174,174)" d="M373 183h1v7h-1zM425 183h2v7h-2zM381 321h37v7h-37z"/>
<path fill="rgb(177,177,177)" d="M376 162h2v7h-2zM422 162h1v7h-1zM366 293h2v7h-2zM432 293h1v7h-1zM373 314h1v7h-1zM425 314h2v7h-2z"/>
<path fill="rgb(180,180,180)" d="M369 211h2v7h-2zM428 211h2v7h-2zM366 252h2v7h-2zM432 252h1v7h-1zM369 307h2v7h-2zM428 307h2v7h-2z"/>
<path fill="rgb(183,183,183)" d="M371 197h2v7h-2zM427 197h1v7h-1zM366 287h2v6h-2zM432 287h1v6h-1zM368 300h1v7h-1zM430 300h2v7h-2zM374 314h2v7h-2zM423 314h2v7h-2z"/>
<path fill="rgb(186,186,186)" d="M387 121h2v7h-2zM410 121h2v7h-2zM384 128h2v7h-2zM414 128h1v7h-1zM366 259h2v7h-2zM432 259h1v7h-1zM366 280h2v7h-2zM432 280h1v7h-1zM371 307h2v7h-2zM427 307h1v7h-1zM376 314h2v7h-2zM422 314h1v7h-1z"/>
<path fill="rgb(189,189,189)" d="M368 231h1v7h-1zM430 231h2v7h-2zM366 266h2v7h-2zM432 266h1v7h-1zM366 273h2v7h-2zM432 273h1v7h-1zM378 314h3v7h-3zM418 314h4v7h-4z"/>
<path fill="rgb(192,192,192)" d="M389 121h2v7h-2zM409 121h1v7h-1zM378 155h1v7h-1zM420 155h2v7h-2zM368 293h1v7h-1zM430 293h2v7h-2zM369 300h2v7h-2zM428 300h2v7h-2zM381 314h37v7h-37z"/>
<path fill="rgb(195,195,195)" d="M374 176h2v7h-2zM423 176h2v7h-2zM373 307h1v7h-1zM425 307h2v7h-2z"/>
<path fill="rgb(198,198,198)" d="M391 121h3v7h-3zM405 121h4v7h-4zM382 135h2v7h-2zM415 135h2v7h-2zM379 148h2v7h-2zM418 148h2v7h-2zM374 307h2v7h-2zM423 307h2v7h-2z"/>
<path fill="rgb(201,201,201)" d="M394 121h11v7h-11zM381 142h1v6h-1zM417 142h1v6h-1zM368 287h1v6h-1zM430 287h2v6h-2z"/>
<path fill="rgb(204,204,204)" d="M369 218h2v6h-2zM428 218h2v6h-2zM368 238h1v7h-1zM430 238h2v7h-2zM371 300h2v7h-2zM427 300h1v7h-1zM376 307h3v7h-3zM420 307h3v7h-3z"/>
<path fill="rgb(207,207,207)" d="M386 128h1v7h-1zM412 128h2v7h-2zM373 190h1v7h-1zM425 190h2v7h-2zM369 293h2v7h-2zM428 293h2v7h-2zM379 307h2v7h-2zM418 307h2v7h-2z"/>
<path fill="rgb(210,210,210)" d="M376 169h2v7h-2zM422 169h1v7h-1zM371 204h2v7h-2zM427 204h1v7h-1zM368 280h1v7h-1zM430 280h2v7h-2zM373 300h1v7h-1zM425 300h2v7h-2zM381 307h37v7h-37z"/>
<path fill="rgb(213,213,213)" d="M368 245h1v7h-1zM430 245h2v7h-2z"/>
<path fill="rgb(216,216,216)" d="M368 273h1v7h-1zM430 273h2v7h-2zM371 293h2v7h-2zM427 293h1v7h-1zM374 300h2v7h-2zM423 300h2v7h-2z"/>
<path fill="rgb(219,219,219)" d="M387 128h2v7h-2zM410 128h2v7h-2zM368 252h1v7h-1zM430 252h2v7h-2zM368 259h1v7h-1zM430 259h2v7h-2zM368 266h1v7h-1zM430 266h2v7h-2zM369 287h2v6h-2zM428 287h2v6h-2z"/>
<path fill="rgb(222,222,222)" d="M369 224h2v7h-2zM428 224h2v7h-2zM376 300h2v7h-2zM422 300h1v7h-1z"/>
<path fill="rgb(225,225,225)" d="M384 135h2v7h-2zM414 135h1v7h-1zM373 293h1v7h-1zM425 293h2v7h-2zM378 300h1v7h-1zM420 300h2v7h-2z"/>
<path fill="rgb(228,228,228)" d="M389 128h2v7h-2zM409 128h1v7h-1zM378 162h1v7h-1zM420 162h2v7h-2zM374 183h2v7h-2zM423 183h2v7h-2zM369 280h2v7h-2zM428 280h2v7h-2zM379 300h5v7h-5zM415 300h5v7h-5z"/>
<path fill="rgb(231,231,231)" d="M391 128h3v7h-3zM405 128h4v7h-4zM371 287h2v6h-2zM427 287h1v6h-1zM384 300h31v7h-31z"/>
<path fill="rgb(234,234,234)" d="M394 128h11v7h-11zM382 142h2v6h-2zM415 142h2v6h-2zM371 211h2v7h-2zM427 211h1v7h-1zM369 231h2v7h-2zM428 231h2v7h-2zM374 293h2v7h-2zM423 293h2v7h-2z"/>
<path fill="rgb(237,237,237)" d="M379 155h2v7h-2zM418 155h2v7h-2zM373 197h1v7h-1zM425 197h2v7h-2zM369 273h2v7h-2zM428 273h2v7h-2z"/>
<path fill="rgb(240,240,240)" d="M381 148h1v7h-1zM417 148h1v7h-1zM376 293h2v7h-2zM422 293h1v7h-1z"/>
<path fill="rgb(243,243,243)" d="M386 135h1v7h-1zM412 135h2v7h-2zM373 287h1v6h-1zM425 287h2v6h-2zM378 293h1v7h-1zM420 293h2v7h-2z"/>
<path fill="rgb(246,246,246)" d="M376 176h2v7h-2zM422 176h1v7h-1zM369 238h2v7h-2zM428 238h2v7h-2zM369 266h2v7h-2zM428 266h2v7h-2zM371 280h2v7h-2zM427 280h1v7h-1zM379 293h2v7h-2zM418 293h2v7h-2z"/>
<path fill="rgb(249,249,249)" d="M369 245h2v7h-2zM428 245h2v7h-2zM369 259h2v7h-2zM428 259h2v7h-2zM381 293h3v7h-3zM415 293h3v7h-3z"/>
<path fill="rgb(252,252,252)" d="M371 218h2v6h-2zM427 218h1v6h-1zM369 252h2v7h-2zM428 252h2v7h-2zM374 287h2v6h-2zM423 287h2v6h-2zM384 293h31v7h-31z"/>
<path fill="rgb(255,255,255)" d="M387 135h25v7h-25zM384 142h31v6h-31zM382 148h35v7h-35zM381 155h37v7h-37zM379 162h41v7h-41zM378 169h44v7h-44zM378 176h44v7h-44zM376 183h47v7h-47zM374 190h51v7h-51zM374 197h51v7h-51zM373 204h54v7h-54zM373 211h54v7h-54zM373 218h54v6h-54zM371 224h57v7h-57zM371 231h57v7h-57zM371 238h57v7h-57zM371 245h57v7h-57zM371 252h57v7h-57zM371 259h57v7h-57zM371 266h57v7h-57zM371 273h57v7h-57zM373 280h54v7h-54zM376 287h47v6h-47z"/></g>
<g fill="none" stroke="#000" stroke-linecap="butt">
<path d="M72.0 625.8L72.0 72.0L727.3 72.0M727.3 71.05L727.3 624.9L72.0 624.9" stroke-width="1.9"/>
<path d="M72.00 62.0L72.00 72.0" stroke-width="2.5"/>
<path d="M235.85 62.0L235.85 72.0" stroke-width="2.5"/>
<path d="M399.70 62.0L399.70 72.0" stroke-width="2.5"/>
<path d="M563.55 62.0L563.55 72.0" stroke-width="2.5"/>
<path d="M727.40 62.0L727.40 72.0" stroke-width="2.5"/>
<path d="M62.0 75.05L72.0 75.05" stroke-width="2.5"/>
<path d="M62.0 143.78L72.0 143.78" stroke-width="2.5"/>
<path d="M62.0 212.51L72.0 212.51" stroke-width="2.5"/>
<path d="M62.0 281.24L72.0 281.24" stroke-width="2.5"/>
<path d="M62.0 349.97L72.0 349.97" stroke-width="2.5"/>
<path d="M62.0 418.70L72.0 418.70" stroke-width="2.5"/>
<path d="M62.0 487.43L72.0 487.43" stroke-width="2.5"/>
<path d="M62.0 556.16L72.0 556.16" stroke-width="2.5"/>
<path d="M62.0 624.89L72.0 624.89" stroke-width="2.5"/>
</g>
<defs><linearGradient id="cb" x1="0" y1="1" x2="0" y2="0"><stop offset="0" stop-color="rgb(45,45,45)"/><stop offset="0.5" stop-color="#fff"/><stop offset="1" stop-color="#fff"/></linearGradient></defs>
<rect x="760.3" y="71.7" width="26.100000000000023" height="553.1999999999999" fill="url(#cb)" stroke="#000" stroke-width="1.4"/>
<path d="M786.4 624.90L795.7 624.90" stroke="#000" stroke-width="2.2"/>
<path d="M786.4 514.26L795.7 514.26" stroke="#000" stroke-width="2.2"/>
<path d="M786.4 403.62L795.7 403.62" stroke="#000" stroke-width="2.2"/>
<path d="M786.4 292.98L795.7 292.98" stroke="#000" stroke-width="2.2"/>
<path d="M786.4 182.34L795.7 182.34" stroke="#000" stroke-width="2.2"/>
<path d="M786.4 71.70L795.7 71.70" stroke="#000" stroke-width="2.2"/>
<path transform="translate(252.90,22.30)" d="M1.68 -16.80 L5.88 0.00 L10.08 -16.80 L14.28 0.00 L18.48 -16.80M34.16 0.00 L34.16 -2.40M34.16 -2.40 L34.16 -8.80M34.16 -2.40 L32.48 -0.80 L30.80 0.00 L28.28 0.00 L26.60 -0.80 L24.92 -2.40 L24.08 -4.80 L24.08 -6.40 L24.92 -8.80 L26.60 -10.40 L28.28 -11.20 L30.80 -11.20 L32.48 -10.40 L34.16 -8.80M34.16 -8.80 L34.16 -11.20M40.60 -11.20 L45.64 0.00 L50.68 -11.20M56.28 -6.40 L56.28 -4.80 L57.12 -2.40 L58.80 -0.80 L60.48 0.00 L63.00 0.00 L64.68 -0.80 L66.36 -2.40M56.28 -6.40 L57.12 -8.80 L58.80 -10.40 L60.48 -11.20 L63.00 -11.20 L64.68 -10.40 L65.52 -9.60 L66.36 -8.00 L66.36 -6.40 L56.28 -6.40M73.64 0.00 L73.64 -8.00M73.64 -8.00 L73.64 -11.20M73.64 -8.00 L76.16 -10.40 L77.84 -11.20 L80.36 -11.20 L82.04 -10.40 L82.88 -8.00 L82.88 0.00M91.00 -11.20 L91.00 -3.20 L91.84 -0.80 L93.52 0.00 L96.04 0.00 L97.72 -0.80 L100.24 -3.20M100.24 0.00 L100.24 -3.20M100.24 -3.20 L100.24 -11.20M108.36 0.00 L108.36 -8.00M108.36 -8.00 L108.36 -11.20M108.36 -8.00 L110.88 -10.40 L112.56 -11.20 L115.08 -11.20 L116.76 -10.40 L117.60 -8.00M117.60 0.00 L117.60 -8.00M117.60 -8.00 L120.12 -10.40 L121.80 -11.20 L124.32 -11.20 L126.00 -10.40 L126.84 -8.00 L126.84 0.00M134.96 0.00 L134.96 -2.40M134.96 -2.40 L134.96 -8.80M134.96 -2.40 L136.64 -0.80 L138.32 0.00 L140.84 0.00 L142.52 -0.80 L144.20 -2.40 L145.04 -4.80 L145.04 -6.40 L144.20 -8.80 L142.52 -10.40 L140.84 -11.20 L138.32 -11.20 L136.64 -10.40 L134.96 -8.80M134.96 -8.80 L134.96 -16.80M151.48 -6.40 L151.48 -4.80 L152.32 -2.40 L154.00 -0.80 L155.68 0.00 L158.20 0.00 L159.88 -0.80 L161.56 -2.40M151.48 -6.40 L152.32 -8.80 L154.00 -10.40 L155.68 -11.20 L158.20 -11.20 L159.88 -10.40 L160.72 -9.60 L161.56 -8.00 L161.56 -6.40 L151.48 -6.40M168.84 0.00 L168.84 -6.40M168.84 -6.40 L168.84 -11.20M168.84 -6.40 L169.68 -8.80 L171.36 -10.40 L173.04 -11.20 L175.56 -11.20M198.10 -20.00 L196.42 -18.40 L194.74 -16.00 L193.06 -12.80 L192.22 -8.80 L192.22 -5.60 L193.06 -1.60 L194.74 1.60 L196.42 4.00 L198.10 5.60M207.06 -13.60 L208.74 -14.40 L211.26 -16.80 L211.26 0.00M237.02 -20.00 L221.90 5.60M243.46 -16.80 L243.46 0.00M251.86 -11.20 L243.46 -3.20M246.82 -6.40 L252.70 0.00M259.14 0.00 L259.14 -8.00M259.14 -8.00 L259.14 -11.20M259.14 -8.00 L261.66 -10.40 L263.34 -11.20 L265.86 -11.20 L267.54 -10.40 L268.38 -8.00M268.38 0.00 L268.38 -8.00M268.38 -8.00 L270.90 -10.40 L272.58 -11.20 L275.10 -11.20 L276.78 -10.40 L277.62 -8.00 L277.62 0.00M284.90 -20.00 L286.58 -18.40 L288.26 -16.00 L289.94 -12.80 L290.78 -8.80 L290.78 -5.60 L289.94 -1.60 L288.26 1.60 L286.58 4.00 L284.90 5.60" fill="none" stroke="#000" stroke-width="3.1" stroke-linecap="round" stroke-linejoin="round"/>
<path transform="translate(36.40,56.40)" d="M3.44 -7.20 L16.96 -7.20M26.40 -13.60 L28.00 -14.40 L30.40 -16.80 L30.40 0.00M40.80 -7.20 L41.60 -3.20 L43.20 -0.80 L45.60 0.00 L47.20 0.00 L49.60 -0.80 L51.20 -3.20 L52.00 -7.20 L52.00 -9.60 L51.20 -13.60 L49.60 -16.00 L47.20 -16.80 L45.60 -16.80 L43.20 -16.00 L41.60 -13.60 L40.80 -9.60 L40.80 -7.20M57.60 -7.20 L58.40 -3.20 L60.00 -0.80 L62.40 0.00 L64.00 0.00 L66.40 -0.80 L68.00 -3.20 L68.80 -7.20 L68.80 -9.60 L68.00 -13.60 L66.40 -16.00 L64.00 -16.80 L62.40 -16.80 L60.00 -16.00 L58.40 -13.60 L57.60 -9.60 L57.60 -7.20" fill="none" stroke="#000" stroke-width="3.4" stroke-linecap="round" stroke-linejoin="round"/>
<path transform="translate(208.65,56.40)" d="M3.44 -7.20 L16.96 -7.20M24.00 -3.20 L24.80 -1.60 L25.60 -0.80 L28.00 0.00 L30.40 0.00 L32.80 -0.80 L34.40 -2.40 L35.20 -4.80 L35.20 -6.40 L34.40 -8.80 L32.80 -10.40 L30.40 -11.20 L28.00 -11.20 L25.60 -10.40 L24.80 -9.60 L25.60 -16.80 L33.60 -16.80M40.80 -7.20 L41.60 -3.20 L43.20 -0.80 L45.60 0.00 L47.20 0.00 L49.60 -0.80 L51.20 -3.20 L52.00 -7.20 L52.00 -9.60 L51.20 -13.60 L49.60 -16.00 L47.20 -16.80 L45.60 -16.80 L43.20 -16.00 L41.60 -13.60 L40.80 -9.60 L40.80 -7.20" fill="none" stroke="#000" stroke-width="3.4" stroke-linecap="round" stroke-linejoin="round"/>
<path transform="translate(391.70,56.40)" d="M2.40 -7.20 L3.20 -3.20 L4.80 -0.80 L7.20 0.00 L8.80 0.00 L11.20 -0.80 L12.80 -3.20 L13.60 -7.20 L13.60 -9.60 L12.80 -13.60 L11.20 -16.00 L8.80 -16.80 L7.20 -16.80 L4.80 -16.00 L3.20 -13.60 L2.40 -9.60 L2.40 -7.20" fill="none" stroke="#000" stroke-width="3.4" stroke-linecap="round" stroke-linejoin="round"/>
<path transform="translate(547.15,56.40)" d="M2.40 -3.20 L3.20 -1.60 L4.00 -0.80 L6.40 0.00 L8.80 0.00 L11.20 -0.80 L12.80 -2.40 L13.60 -4.80 L13.60 -6.40 L12.80 -8.80 L11.20 -10.40 L8.80 -11.20 L6.40 -11.20 L4.00 -10.40 L3.20 -9.60 L4.00 -16.80 L12.00 -16.80M19.20 -7.20 L20.00 -3.20 L21.60 -0.80 L24.00 0.00 L25.60 0.00 L28.00 -0.80 L29.60 -3.20 L30.40 -7.20 L30.40 -9.60 L29.60 -13.60 L28.00 -16.00 L25.60 -16.80 L24.00 -16.80 L21.60 -16.00 L20.00 -13.60 L19.20 -9.60 L19.20 -7.20" fill="none" stroke="#000" stroke-width="3.4" stroke-linecap="round" stroke-linejoin="round"/>
<path transform="translate(702.60,56.40)" d="M4.80 -13.60 L6.40 -14.40 L8.80 -16.80 L8.80 0.00M19.20 -7.20 L20.00 -3.20 L21.60 -0.80 L24.00 0.00 L25.60 0.00 L28.00 -0.80 L29.60 -3.20 L30.40 -7.20 L30.40 -9.60 L29.60 -13.60 L28.00 -16.00 L25.60 -16.80 L24.00 -16.80 L21.60 -16.00 L20.00 -13.60 L19.20 -9.60 L19.20 -7.20M36.00 -7.20 L36.80 -3.20 L38.40 -0.80 L40.80 0.00 L42.40 0.00 L44.80 -0.80 L46.40 -3.20 L47.20 -7.20 L47.20 -9.60 L46.40 -13.60 L44.80 -16.00 L42.40 -16.80 L40.80 -16.80 L38.40 -16.00 L36.80 -13.60 L36.00 -9.60 L36.00 -7.20" fill="none" stroke="#000" stroke-width="3.4" stroke-linecap="round" stroke-linejoin="round"/>
<path transform="translate(56.30,83.05) rotate(-90)" d="M2.40 -7.20 L3.20 -3.20 L4.80 -0.80 L7.20 0.00 L8.80 0.00 L11.20 -0.80 L12.80 -3.20 L13.60 -7.20 L13.60 -9.60 L12.80 -13.60 L11.20 -16.00 L8.80 -16.80 L7.20 -16.80 L4.80 -16.00 L3.20 -13.60 L2.40 -9.60 L2.40 -7.20" fill="none" stroke="#000" stroke-width="3.4" stroke-linecap="round" stroke-linejoin="round"/>
<path transform="translate(56.30,160.18) rotate(-90)" d="M4.80 -13.60 L6.40 -14.40 L8.80 -16.80 L8.80 0.00M19.20 -7.20 L20.00 -3.20 L21.60 -0.80 L24.00 0.00 L25.60 0.00 L28.00 -0.80 L29.60 -3.20 L30.40 -7.20 L30.40 -9.60 L29.60 -13.60 L28.00 -16.00 L25.60 -16.80 L24.00 -16.80 L21.60 -16.00 L20.00 -13.60 L19.20 -9.60 L19.20 -7.20" fill="none" stroke="#000" stroke-width="3.4" stroke-linecap="round" stroke-linejoin="round"/>
<path transform="translate(56.30,228.91) rotate(-90)" d="M3.20 -12.80 L3.20 -13.60 L4.00 -15.20 L4.80 -16.00 L6.40 -16.80 L9.60 -16.80 L11.20 -16.00 L12.00 -15.20 L12.80 -13.60 L12.80 -12.00 L12.00 -10.40 L10.40 -8.00 L2.40 0.00 L13.60 0.00M19.20 -7.20 L20.00 -3.20 L21.60 -0.80 L24.00 0.00 L25.60 0.00 L28.00 -0.80 L29.60 -3.20 L30.40 -7.20 L30.40 -9.60 L29.60 -13.60 L28.00 -16.00 L25.60 -16.80 L24.00 -16.80 L21.60 -16.00 L20.00 -13.60 L19.20 -9.60 L19.20 -7.20" fill="none" stroke="#000" stroke-width="3.4" stroke-linecap="round" stroke-linejoin="round"/>
<path transform="translate(56.30,297.64) rotate(-90)" d="M2.40 -3.20 L3.20 -1.60 L4.00 -0.80 L6.40 0.00 L8.80 0.00 L11.20 -0.80 L12.80 -2.40 L13.60 -4.80 L13.60 -6.40 L12.80 -8.80 L12.00 -9.60 L10.40 -10.40 L8.00 -10.40 L12.80 -16.80 L4.00 -16.80M19.20 -7.20 L20.00 -3.20 L21.60 -0.80 L24.00 0.00 L25.60 0.00 L28.00 -0.80 L29.60 -3.20 L30.40 -7.20 L30.40 -9.60 L29.60 -13.60 L28.00 -16.00 L25.60 -16.80 L24.00 -16.80 L21.60 -16.00 L20.00 -13.60 L19.20 -9.60 L19.20 -7.20" fill="none" stroke="#000" stroke-width="3.4" stroke-linecap="round" stroke-linejoin="round"/>
<path transform="translate(56.30,366.37) rotate(-90)" d="M10.40 0.00 L10.40 -5.60M10.40 -5.60 L10.40 -16.80 L2.40 -5.60 L10.40 -5.60M10.40 -5.60 L14.40 -5.60M19.20 -7.20 L20.00 -3.20 L21.60 -0.80 L24.00 0.00 L25.60 0.00 L28.00 -0.80 L29.60 -3.20 L30.40 -7.20 L30.40 -9.60 L29.60 -13.60 L28.00 -16.00 L25.60 -16.80 L24.00 -16.80 L21.60 -16.00 L20.00 -13.60 L19.20 -9.60 L19.20 -7.20" fill="none" stroke="#000" stroke-width="3.4" stroke-linecap="round" stroke-linejoin="round"/>
<path transform="translate(56.30,435.10) rotate(-90)" d="M2.40 -3.20 L3.20 -1.60 L4.00 -0.80 L6.40 0.00 L8.80 0.00 L11.20 -0.80 L12.80 -2.40 L13.60 -4.80 L13.60 -6.40 L12.80 -8.80 L11.20 -10.40 L8.80 -11.20 L6.40 -11.20 L4.00 -10.40 L3.20 -9.60 L4.00 -16.80 L12.00 -16.80M19.20 -7.20 L20.00 -3.20 L21.60 -0.80 L24.00 0.00 L25.60 0.00 L28.00 -0.80 L29.60 -3.20 L30.40 -7.20 L30.40 -9.60 L29.60 -13.60 L28.00 -16.00 L25.60 -16.80 L24.00 -16.80 L21.60 -16.00 L20.00 -13.60 L19.20 -9.60 L19.20 -7.20" fill="none" stroke="#000" stroke-width="3.4" stroke-linecap="round" stroke-linejoin="round"/>
<path transform="translate(56.30,503.83) rotate(-90)" d="M3.20 -5.60 L4.00 -2.40 L5.60 -0.80 L8.00 0.00 L8.80 0.00 L11.20 -0.80 L12.80 -2.40 L13.60 -4.80 L13.60 -5.60 L12.80 -8.00 L11.20 -9.60 L8.80 -10.40 L8.00 -10.40 L5.60 -9.60 L4.00 -8.00 L3.20 -5.60M3.20 -5.60 L3.20 -9.60 L4.00 -13.60 L5.60 -16.00 L8.00 -16.80 L9.60 -16.80 L12.00 -16.00 L12.80 -14.40M19.20 -7.20 L20.00 -3.20 L21.60 -0.80 L24.00 0.00 L25.60 0.00 L28.00 -0.80 L29.60 -3.20 L30.40 -7.20 L30.40 -9.60 L29.60 -13.60 L28.00 -16.00 L25.60 -16.80 L24.00 -16.80 L21.60 -16.00 L20.00 -13.60 L19.20 -9.60 L19.20 -7.20" fill="none" stroke="#000" stroke-width="3.4" stroke-linecap="round" stroke-linejoin="round"/>
<path transform="translate(56.30,572.56) rotate(-90)" d="M2.40 -16.80 L13.60 -16.80 L5.60 0.00M19.20 -7.20 L20.00 -3.20 L21.60 -0.80 L24.00 0.00 L25.60 0.00 L28.00 -0.80 L29.60 -3.20 L30.40 -7.20 L30.40 -9.60 L29.60 -13.60 L28.00 -16.00 L25.60 -16.80 L24.00 -16.80 L21.60 -16.00 L20.00 -13.60 L19.20 -9.60 L19.20 -7.20" fill="none" stroke="#000" stroke-width="3.4" stroke-linecap="round" stroke-linejoin="round"/>
<path transform="translate(56.30,641.29) rotate(-90)" d="M2.40 -3.20 L3.20 -1.60 L4.00 -0.80 L6.40 0.00 L9.60 0.00 L12.00 -0.80 L12.80 -1.60 L13.60 -3.20 L13.60 -5.60 L12.80 -7.20 L11.20 -8.80 L8.80 -9.60 L5.60 -10.40 L4.00 -11.20 L3.20 -12.80 L3.20 -14.40 L4.00 -16.00 L6.40 -16.80 L9.60 -16.80 L12.00 -16.00 L12.80 -14.40 L12.80 -12.80 L12.00 -11.20 L10.40 -10.40 L7.20 -9.60 L4.80 -8.80 L3.20 -7.20 L2.40 -5.60 L2.40 -3.20M19.20 -7.20 L20.00 -3.20 L21.60 -0.80 L24.00 0.00 L25.60 0.00 L28.00 -0.80 L29.60 -3.20 L30.40 -7.20 L30.40 -9.60 L29.60 -13.60 L28.00 -16.00 L25.60 -16.80 L24.00 -16.80 L21.60 -16.00 L20.00 -13.60 L19.20 -9.60 L19.20 -7.20" fill="none" stroke="#000" stroke-width="3.4" stroke-linecap="round" stroke-linejoin="round"/>
<path transform="translate(22.50,455.77) rotate(-90)" d="M3.36 0.00 L3.36 -8.80M3.36 -8.80 L10.08 -8.80M3.36 -8.80 L3.36 -16.80 L14.28 -16.80M19.73 0.00 L19.73 -6.40M19.73 -6.40 L19.73 -11.20M19.73 -6.40 L20.57 -8.80 L22.25 -10.40 L23.93 -11.20 L26.45 -11.20M31.06 -6.40 L31.06 -4.80 L31.90 -2.40 L33.58 -0.80 L35.26 0.00 L37.78 0.00 L39.46 -0.80 L41.14 -2.40M31.06 -6.40 L31.90 -8.80 L33.58 -10.40 L35.26 -11.20 L37.78 -11.20 L39.46 -10.40 L40.30 -9.60 L41.14 -8.00 L41.14 -6.40 L31.06 -6.40M57.51 5.60 L57.51 -2.40M57.51 -2.40 L57.51 -8.80M57.51 -2.40 L55.83 -0.80 L54.15 0.00 L51.63 0.00 L49.95 -0.80 L48.27 -2.40 L47.43 -4.80 L47.43 -6.40 L48.27 -8.80 L49.95 -10.40 L51.63 -11.20 L54.15 -11.20 L55.83 -10.40 L57.51 -8.80M57.51 -8.80 L57.51 -11.20M65.48 -11.20 L65.48 -3.20 L66.32 -0.80 L68.00 0.00 L70.52 0.00 L72.20 -0.80 L74.72 -3.20M74.72 0.00 L74.72 -3.20M74.72 -3.20 L74.72 -11.20M81.85 -6.40 L81.85 -4.80 L82.69 -2.40 L84.37 -0.80 L86.05 0.00 L88.57 0.00 L90.25 -0.80 L91.93 -2.40M81.85 -6.40 L82.69 -8.80 L84.37 -10.40 L86.05 -11.20 L88.57 -11.20 L90.25 -10.40 L91.09 -9.60 L91.93 -8.00 L91.93 -6.40 L81.85 -6.40M99.06 0.00 L99.06 -8.00M99.06 -8.00 L99.06 -11.20M99.06 -8.00 L101.58 -10.40 L103.26 -11.20 L105.78 -11.20 L107.46 -10.40 L108.30 -8.00 L108.30 0.00M125.51 -2.40 L123.83 -0.80 L122.15 0.00 L119.63 0.00 L117.95 -0.80 L116.27 -2.40 L115.43 -4.80 L115.43 -6.40 L116.27 -8.80 L117.95 -10.40 L119.63 -11.20 L122.15 -11.20 L123.83 -10.40 L125.51 -8.80M130.12 5.60 L130.96 5.60 L132.64 4.80 L134.32 3.20 L136.00 0.00M130.96 -11.20 L136.00 0.00M136.00 0.00 L141.04 -11.20M164.12 -20.00 L162.44 -18.40 L160.76 -16.00 L159.08 -12.80 L158.24 -8.80 L158.24 -5.60 L159.08 -1.60 L160.76 1.60 L162.44 4.00 L164.12 5.60M171.25 0.00 L171.25 -8.80M171.25 -8.80 L183.01 -8.80M171.25 -8.80 L171.25 -16.80M183.01 0.00 L183.01 -8.80M183.01 -8.80 L183.01 -16.80M190.14 -11.20 L199.38 -11.20 L190.14 0.00 L199.38 0.00M205.67 -20.00 L207.35 -18.40 L209.03 -16.00 L210.71 -12.80 L211.55 -8.80 L211.55 -5.60 L210.71 -1.60 L209.03 1.60 L207.35 4.00 L205.67 5.60" fill="none" stroke="#000" stroke-width="3.1" stroke-linecap="round" stroke-linejoin="round"/>
<path transform="translate(281.39,663.30)" d="M4.16 0.00 L4.16 -9.95M4.16 -9.95 L4.16 -20.89 L13.52 -20.89 L16.64 -19.90 L17.68 -18.91 L18.72 -16.91 L18.72 -13.93 L17.68 -11.94 L16.64 -10.95 L13.52 -9.95 L4.16 -9.95M26.71 -2.98 L28.79 -0.99 L31.91 0.00 L36.07 0.00 L39.19 -0.99 L41.27 -2.98 L41.27 -5.97 L40.23 -7.96 L39.19 -8.96 L37.11 -9.95 L30.87 -11.94 L28.79 -12.94 L27.75 -13.93 L26.71 -15.92 L26.71 -17.91 L28.79 -19.90 L31.91 -20.89 L36.07 -20.89 L39.19 -19.90 L41.27 -17.91M64.01 0.00 L64.01 -20.89 L72.33 0.00 L80.65 -20.89 L80.65 0.00M102.16 0.00 L102.16 -2.98M102.16 -2.98 L102.16 -10.95M102.16 -2.98 L100.08 -0.99 L98.00 0.00 L94.88 0.00 L92.80 -0.99 L90.72 -2.98 L89.68 -5.97 L89.68 -7.96 L90.72 -10.95 L92.80 -12.94 L94.88 -13.93 L98.00 -13.93 L100.08 -12.94 L102.16 -10.95M102.16 -10.95 L102.16 -13.93M114.31 5.97 L116.39 6.96 L119.51 6.96 L121.59 5.97 L122.63 4.97 L123.67 1.99 L123.67 -2.98M123.67 -2.98 L123.67 -10.95M123.67 -2.98 L121.59 -0.99 L119.51 0.00 L116.39 0.00 L114.31 -0.99 L112.23 -2.98 L111.19 -5.97 L111.19 -7.96 L112.23 -10.95 L114.31 -12.94 L116.39 -13.93 L119.51 -13.93 L121.59 -12.94 L123.67 -10.95M123.67 -10.95 L123.67 -13.93M133.74 0.00 L133.74 -9.95M133.74 -9.95 L133.74 -13.93M133.74 -9.95 L136.86 -12.94 L138.94 -13.93 L142.06 -13.93 L144.14 -12.94 L145.18 -9.95 L145.18 0.00M155.25 0.00 L155.25 -13.93M154.21 -20.89 L155.25 -21.89 L156.29 -20.89 L155.25 -19.90 L154.21 -20.89M163.24 -13.93 L166.36 -13.93M166.36 -13.93 L166.36 -20.89M166.36 -13.93 L170.52 -13.93M166.36 -13.93 L166.36 -3.98 L167.40 -0.99 L169.48 0.00 L171.56 0.00M179.55 -13.93 L179.55 -3.98 L180.59 -0.99 L182.67 0.00 L185.79 0.00 L187.87 -0.99 L190.99 -3.98M190.99 0.00 L190.99 -3.98M190.99 -3.98 L190.99 -13.93M212.50 0.00 L212.50 -2.98M212.50 -2.98 L212.50 -10.95M212.50 -2.98 L210.42 -0.99 L208.34 0.00 L205.22 0.00 L203.14 -0.99 L201.06 -2.98 L200.02 -5.97 L200.02 -7.96 L201.06 -10.95 L203.14 -12.94 L205.22 -13.93 L208.34 -13.93 L210.42 -12.94 L212.50 -10.95M212.50 -10.95 L212.50 -20.89M221.53 -7.96 L221.53 -5.97 L222.57 -2.98 L224.65 -0.99 L226.73 0.00 L229.85 0.00 L231.93 -0.99 L234.01 -2.98M221.53 -7.96 L222.57 -10.95 L224.65 -12.94 L226.73 -13.93 L229.85 -13.93 L231.93 -12.94 L232.97 -11.94 L234.01 -9.95 L234.01 -7.96 L221.53 -7.96" fill="none" stroke="#000" stroke-width="3.4" stroke-linecap="round" stroke-linejoin="round"/>
<path transform="translate(818.50,633.40) rotate(-90)" d="M2.40 -7.20 L3.20 -3.20 L4.80 -0.80 L7.20 0.00 L8.80 0.00 L11.20 -0.80 L12.80 -3.20 L13.60 -7.20 L13.60 -9.60 L12.80 -13.60 L11.20 -16.00 L8.80 -16.80 L7.20 -16.80 L4.80 -16.00 L3.20 -13.60 L2.40 -9.60 L2.40 -7.20" fill="none" stroke="#000" stroke-width="3.4" stroke-linecap="round" stroke-linejoin="round"/>
<path transform="translate(818.50,535.56) rotate(-90)" d="M2.40 -7.20 L3.20 -3.20 L4.80 -0.80 L7.20 0.00 L8.80 0.00 L11.20 -0.80 L12.80 -3.20 L13.60 -7.20 L13.60 -9.60 L12.80 -13.60 L11.20 -16.00 L8.80 -16.80 L7.20 -16.80 L4.80 -16.00 L3.20 -13.60 L2.40 -9.60 L2.40 -7.20M20.00 -0.80 L20.80 0.00 L21.60 -0.80 L20.80 -1.60 L20.00 -0.80M28.80 -12.80 L28.80 -13.60 L29.60 -15.20 L30.40 -16.00 L32.00 -16.80 L35.20 -16.80 L36.80 -16.00 L37.60 -15.20 L38.40 -13.60 L38.40 -12.00 L37.60 -10.40 L36.00 -8.00 L28.00 0.00 L39.20 0.00" fill="none" stroke="#000" stroke-width="3.4" stroke-linecap="round" stroke-linejoin="round"/>
<path transform="translate(818.50,424.92) rotate(-90)" d="M2.40 -7.20 L3.20 -3.20 L4.80 -0.80 L7.20 0.00 L8.80 0.00 L11.20 -0.80 L12.80 -3.20 L13.60 -7.20 L13.60 -9.60 L12.80 -13.60 L11.20 -16.00 L8.80 -16.80 L7.20 -16.80 L4.80 -16.00 L3.20 -13.60 L2.40 -9.60 L2.40 -7.20M20.00 -0.80 L20.80 0.00 L21.60 -0.80 L20.80 -1.60 L20.00 -0.80M36.00 0.00 L36.00 -5.60M36.00 -5.60 L36.00 -16.80 L28.00 -5.60 L36.00 -5.60M36.00 -5.60 L40.00 -5.60" fill="none" stroke="#000" stroke-width="3.4" stroke-linecap="round" stroke-linejoin="round"/>
<path transform="translate(818.50,314.28) rotate(-90)" d="M2.40 -7.20 L3.20 -3.20 L4.80 -0.80 L7.20 0.00 L8.80 0.00 L11.20 -0.80 L12.80 -3.20 L13.60 -7.20 L13.60 -9.60 L12.80 -13.60 L11.20 -16.00 L8.80 -16.80 L7.20 -16.80 L4.80 -16.00 L3.20 -13.60 L2.40 -9.60 L2.40 -7.20M20.00 -0.80 L20.80 0.00 L21.60 -0.80 L20.80 -1.60 L20.00 -0.80M28.80 -5.60 L29.60 -2.40 L31.20 -0.80 L33.60 0.00 L34.40 0.00 L36.80 -0.80 L38.40 -2.40 L39.20 -4.80 L39.20 -5.60 L38.40 -8.00 L36.80 -9.60 L34.40 -10.40 L33.60 -10.40 L31.20 -9.60 L29.60 -8.00 L28.80 -5.60M28.80 -5.60 L28.80 -9.60 L29.60 -13.60 L31.20 -16.00 L33.60 -16.80 L35.20 -16.80 L37.60 -16.00 L38.40 -14.40" fill="none" stroke="#000" stroke-width="3.4" stroke-linecap="round" stroke-linejoin="round"/>
<path transform="translate(818.50,203.64) rotate(-90)" d="M2.40 -7.20 L3.20 -3.20 L4.80 -0.80 L7.20 0.00 L8.80 0.00 L11.20 -0.80 L12.80 -3.20 L13.60 -7.20 L13.60 -9.60 L12.80 -13.60 L11.20 -16.00 L8.80 -16.80 L7.20 -16.80 L4.80 -16.00 L3.20 -13.60 L2.40 -9.60 L2.40 -7.20M20.00 -0.80 L20.80 0.00 L21.60 -0.80 L20.80 -1.60 L20.00 -0.80M28.00 -3.20 L28.80 -1.60 L29.60 -0.80 L32.00 0.00 L35.20 0.00 L37.60 -0.80 L38.40 -1.60 L39.20 -3.20 L39.20 -5.60 L38.40 -7.20 L36.80 -8.80 L34.40 -9.60 L31.20 -10.40 L29.60 -11.20 L28.80 -12.80 L28.80 -14.40 L29.60 -16.00 L32.00 -16.80 L35.20 -16.80 L37.60 -16.00 L38.40 -14.40 L38.40 -12.80 L37.60 -11.20 L36.00 -10.40 L32.80 -9.60 L30.40 -8.80 L28.80 -7.20 L28.00 -5.60 L28.00 -3.20" fill="none" stroke="#000" stroke-width="3.4" stroke-linecap="round" stroke-linejoin="round"/>
<path transform="translate(818.50,80.20) rotate(-90)" d="M4.80 -13.60 L6.40 -14.40 L8.80 -16.80 L8.80 0.00" fill="none" stroke="#000" stroke-width="3.4" stroke-linecap="round" stroke-linejoin="round"/>
<path transform="translate(850.40,421.07) rotate(-90)" d="M3.36 0.00 L3.36 -8.00M3.36 -8.00 L3.36 -11.20M3.36 -8.00 L5.88 -10.40 L7.56 -11.20 L10.08 -11.20 L11.76 -10.40 L12.60 -8.00M12.60 0.00 L12.60 -8.00M12.60 -8.00 L15.12 -10.40 L16.80 -11.20 L19.32 -11.20 L21.00 -10.40 L21.84 -8.00 L21.84 0.00M39.05 0.00 L39.05 -2.40M39.05 -2.40 L39.05 -8.80M39.05 -2.40 L37.37 -0.80 L35.69 0.00 L33.17 0.00 L31.49 -0.80 L29.81 -2.40 L28.97 -4.80 L28.97 -6.40 L29.81 -8.80 L31.49 -10.40 L33.17 -11.20 L35.69 -11.20 L37.37 -10.40 L39.05 -8.80M39.05 -8.80 L39.05 -11.20M48.70 4.80 L50.38 5.60 L52.90 5.60 L54.58 4.80 L55.42 4.00 L56.26 1.60 L56.26 -2.40M56.26 -2.40 L56.26 -8.80M56.26 -2.40 L54.58 -0.80 L52.90 0.00 L50.38 0.00 L48.70 -0.80 L47.02 -2.40 L46.18 -4.80 L46.18 -6.40 L47.02 -8.80 L48.70 -10.40 L50.38 -11.20 L52.90 -11.20 L54.58 -10.40 L56.26 -8.80M56.26 -8.80 L56.26 -11.20M64.23 0.00 L64.23 -8.00M64.23 -8.00 L64.23 -11.20M64.23 -8.00 L66.75 -10.40 L68.43 -11.20 L70.95 -11.20 L72.63 -10.40 L73.47 -8.00 L73.47 0.00M81.44 0.00 L81.44 -11.20M80.60 -16.80 L81.44 -17.60 L82.28 -16.80 L81.44 -16.00 L80.60 -16.80M87.73 -11.20 L90.25 -11.20M90.25 -11.20 L90.25 -16.80M90.25 -11.20 L93.61 -11.20M90.25 -11.20 L90.25 -3.20 L91.09 -0.80 L92.77 0.00 L94.45 0.00M100.74 -11.20 L100.74 -3.20 L101.58 -0.80 L103.26 0.00 L105.78 0.00 L107.46 -0.80 L109.98 -3.20M109.98 0.00 L109.98 -3.20M109.98 -3.20 L109.98 -11.20M127.19 0.00 L127.19 -2.40M127.19 -2.40 L127.19 -8.80M127.19 -2.40 L125.51 -0.80 L123.83 0.00 L121.31 0.00 L119.63 -0.80 L117.95 -2.40 L117.11 -4.80 L117.11 -6.40 L117.95 -8.80 L119.63 -10.40 L121.31 -11.20 L123.83 -11.20 L125.51 -10.40 L127.19 -8.80M127.19 -8.80 L127.19 -16.80M134.32 -6.40 L134.32 -4.80 L135.16 -2.40 L136.84 -0.80 L138.52 0.00 L141.04 0.00 L142.72 -0.80 L144.40 -2.40M134.32 -6.40 L135.16 -8.80 L136.84 -10.40 L138.52 -11.20 L141.04 -11.20 L142.72 -10.40 L143.56 -9.60 L144.40 -8.00 L144.40 -6.40 L134.32 -6.40" fill="none" stroke="#000" stroke-width="3.1" stroke-linecap="round" stroke-linejoin="round"/>
</svg>
</body></html>
